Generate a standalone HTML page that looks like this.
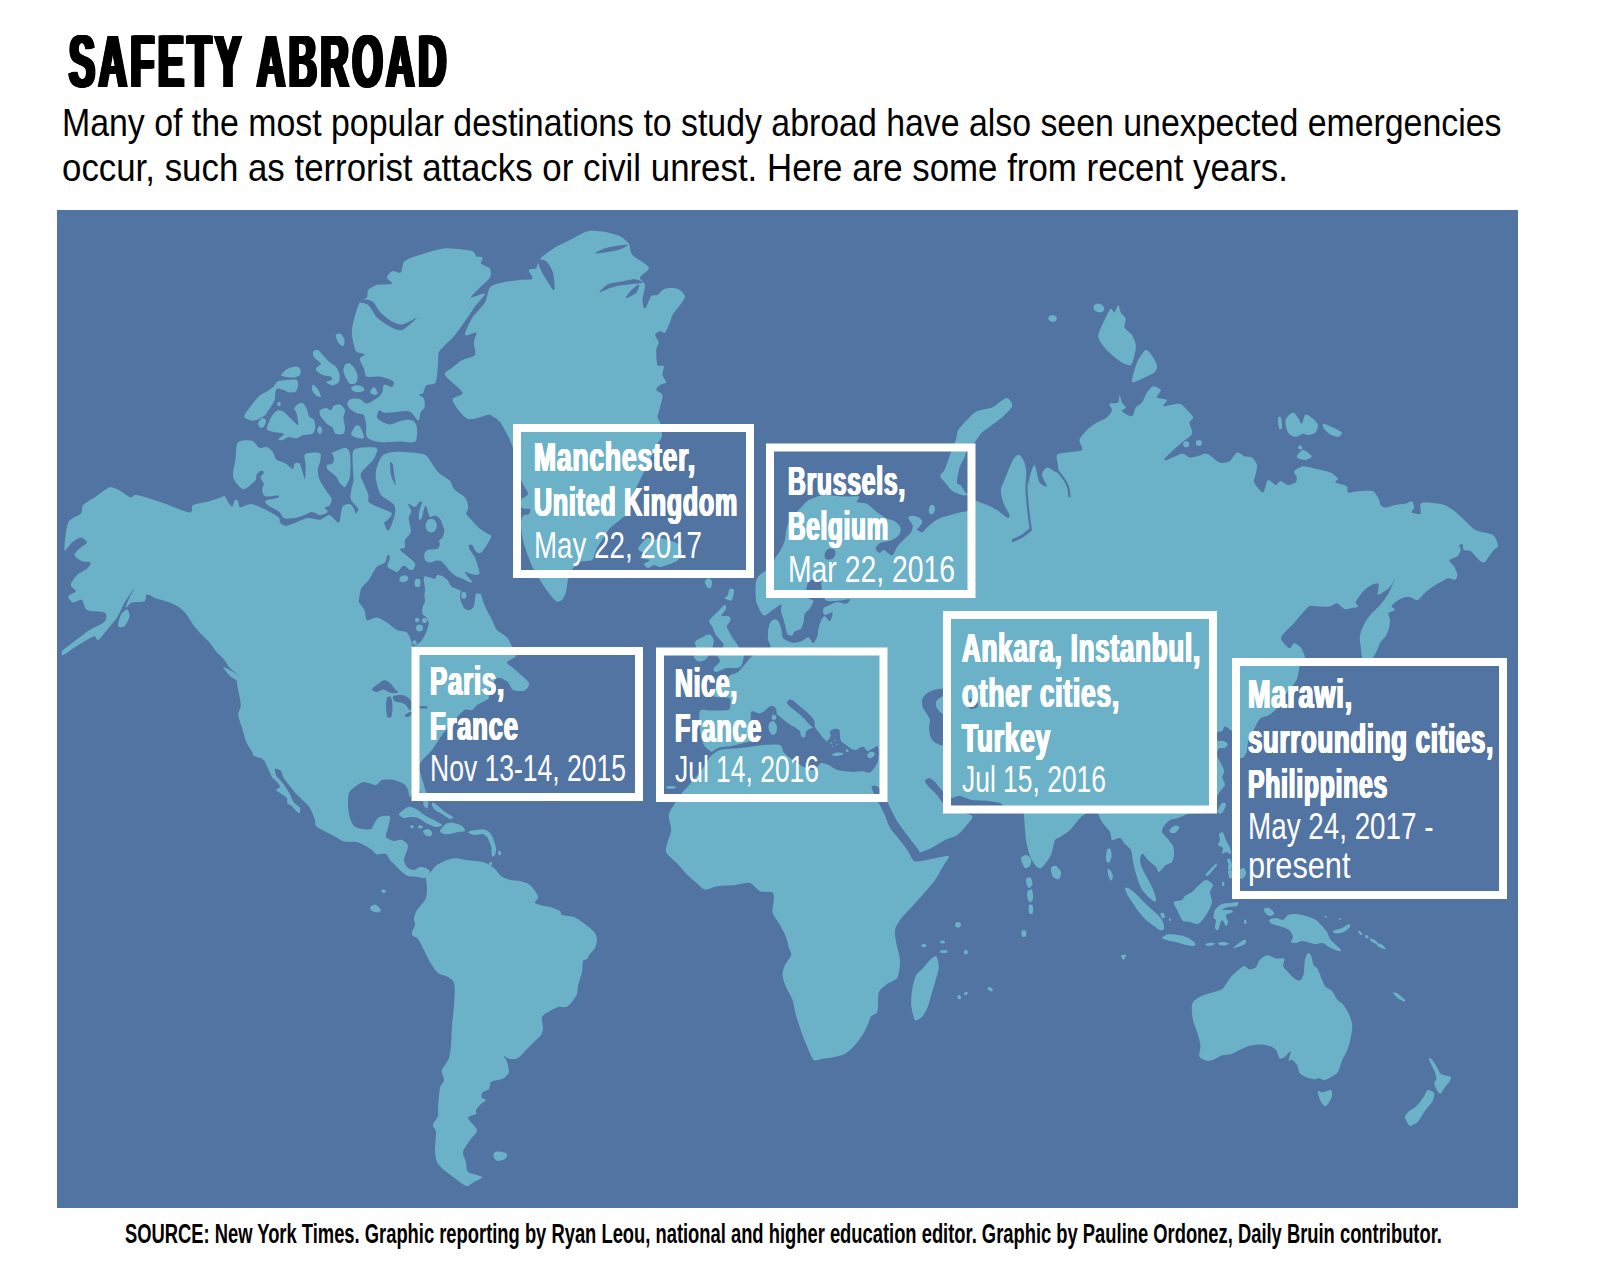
<!DOCTYPE html><html><head><meta charset="utf-8"><title>Safety Abroad</title><style>
html,body{margin:0;padding:0;background:#fff}
body{width:1600px;height:1281px;position:relative;overflow:hidden;font-family:"Liberation Sans",sans-serif}
.t{position:absolute;white-space:nowrap;line-height:1;transform-origin:0 0;display:inline-block}
</style></head><body>
<svg width="1600" height="1281" viewBox="0 0 1600 1281" style="position:absolute;left:0;top:0">
<defs><clipPath id="mc"><rect x="57" y="210" width="1461" height="998"/></clipPath></defs>
<rect x="57" y="210" width="1461" height="998" fill="#5274a3"/>
<g clip-path="url(#mc)">
<g fill="#6bb2c9">
<path d="M68.2,522.5C70.4,517.7 78.8,516.1 80.8,513.8C82.8,511.4 81.4,507.2 83.2,505.0C85.1,502.8 91.0,499.8 94.5,497.5C98.0,495.2 106.0,488.3 109.5,487.5C113.0,486.7 117.9,489.9 120.8,491.2C123.6,492.6 128.6,497.0 130.8,497.5C132.9,498.0 132.8,494.3 137.0,495.0C141.2,495.7 155.0,500.2 162.0,502.5C169.0,504.8 185.3,512.2 189.5,512.5C193.7,512.8 190.6,506.5 193.2,505.0C195.9,503.5 205.9,502.2 209.5,501.2C213.1,500.3 218.0,498.4 220.0,497.8C222.0,497.1 223.4,495.4 224.7,496.2C225.9,497.1 228.3,502.7 229.4,504.1C230.4,505.4 231.8,506.9 232.5,506.4C233.2,505.9 234.1,500.9 234.8,500.2C235.6,499.4 237.2,500.0 238.0,500.9C238.7,501.9 238.5,506.8 240.3,507.2C242.1,507.6 247.9,503.8 251.2,504.1C254.6,504.4 261.7,507.8 265.3,509.5C269.0,511.3 276.6,515.6 278.6,517.3C280.6,519.1 279.2,521.7 280.2,522.8C281.1,524.0 283.9,525.8 285.6,525.9C287.4,526.0 290.5,524.6 293.4,523.6C296.4,522.6 304.0,518.6 307.5,518.1C311.0,517.6 317.1,520.1 320.0,519.7C322.9,519.3 326.9,514.6 329.4,515.0C331.9,515.4 337.2,523.2 338.8,522.8C340.3,522.4 340.5,514.2 341.1,511.9C341.7,509.6 342.3,506.7 343.4,505.6C344.6,504.6 348.3,503.8 349.7,504.1C351.0,504.4 352.8,506.7 353.6,508.0C354.4,509.2 355.3,513.3 355.9,513.4C356.6,513.5 358.7,510.2 358.3,508.8C357.9,507.3 353.9,504.0 352.8,502.5C351.8,501.0 350.6,499.7 350.5,497.8C350.3,495.9 351.1,490.7 351.6,488.4C352.0,486.1 353.4,483.8 353.6,480.6C353.8,477.5 352.7,469.2 352.8,465.0C352.9,460.8 351.2,451.7 354.4,449.4C357.5,447.1 373.6,446.6 376.2,447.8C378.9,449.1 375.2,456.2 373.9,458.8C372.7,461.2 368.6,464.5 366.9,466.6C365.1,468.6 361.0,472.1 360.6,474.4C360.2,476.7 362.7,481.0 363.8,483.8C364.8,486.5 367.7,492.2 368.4,494.7C369.2,497.2 367.1,500.5 369.2,502.5C371.3,504.5 381.0,508.1 384.1,509.5C387.1,511.0 391.4,512.1 391.9,513.4C392.4,514.8 389.0,518.4 388.0,519.7C386.9,520.9 384.0,521.4 384.1,522.8C384.2,524.3 387.3,531.9 388.8,530.6C390.2,529.4 394.4,517.0 395.0,513.4C395.6,509.9 395.3,506.6 393.4,504.1C391.6,501.6 383.2,497.8 380.9,494.7C378.6,491.6 376.9,484.0 376.2,480.6C375.6,477.3 375.4,473.0 376.2,469.7C377.1,466.4 379.8,458.0 382.5,455.6C385.2,453.2 391.1,451.9 396.6,451.7C402.0,451.5 418.5,452.7 423.1,454.1C427.7,455.4 428.9,459.4 430.9,461.9C433.0,464.4 436.2,470.3 438.8,472.8C441.2,475.3 447.7,478.5 449.7,480.6C451.7,482.8 452.4,487.0 453.8,488.8C455.1,490.5 458.5,492.6 460.0,493.8C461.5,494.9 464.0,496.3 465.0,497.5C466.0,498.7 467.1,501.0 467.5,502.5C467.9,504.0 468.3,507.2 468.1,508.8C468.0,510.2 465.7,512.1 466.2,513.8C466.8,515.4 470.7,519.2 472.5,521.2C474.3,523.2 478.0,527.1 480.0,528.8C482.0,530.4 486.0,532.8 487.5,533.8C489.0,534.8 491.2,534.9 491.2,536.2C491.2,537.6 488.7,541.8 487.5,543.8C486.3,545.8 483.7,550.0 482.5,551.2C481.3,552.5 479.8,553.3 478.8,553.1C477.8,553.0 475.8,551.1 475.0,550.0C474.2,548.9 473.3,545.7 472.5,545.0C471.7,544.3 469.1,544.3 468.8,545.0C468.4,545.7 469.2,548.3 470.0,550.0C470.8,551.7 474.0,555.5 475.0,557.5C476.0,559.5 476.9,563.1 477.5,565.0C478.1,566.9 478.9,569.5 479.4,571.9C479.9,574.2 481.1,579.8 481.2,582.5C481.4,585.2 480.3,589.5 480.8,592.5C481.2,595.5 483.0,601.3 484.5,605.0C486.0,608.7 490.3,616.7 492.0,620.0C493.7,623.3 495.0,627.7 497.0,630.0C499.0,632.3 505.0,635.2 507.0,637.5C509.0,639.8 510.8,644.5 512.0,647.0C513.2,649.5 516.4,654.2 515.8,656.2C515.1,658.3 506.8,660.5 507.0,662.5C507.2,664.5 514.1,668.5 517.0,671.2C519.9,674.0 528.0,680.4 529.0,683.0C530.0,685.6 526.6,689.6 524.5,690.5C522.4,691.4 515.6,691.2 513.2,690.0C510.9,688.8 509.2,682.9 507.0,681.2C504.8,679.6 499.3,676.8 497.0,678.0C494.7,679.2 490.7,687.2 489.5,690.0C488.3,692.8 489.9,696.8 488.2,698.8C486.6,700.8 479.2,703.5 477.0,705.0C474.8,706.5 473.7,709.3 472.0,710.0C470.3,710.7 466.8,708.7 464.5,710.0C462.2,711.3 457.5,716.7 454.5,720.0C451.5,723.3 445.0,731.0 442.0,735.0C439.0,739.0 435.0,746.0 432.0,750.0C429.0,754.0 420.6,760.3 419.5,765.0C418.4,769.7 422.9,780.3 424.0,785.0C425.1,789.7 427.5,796.9 428.0,800.0C428.5,803.1 428.0,807.2 427.5,808.0C427.0,808.8 424.7,807.7 424.0,806.0C423.3,804.3 423.1,797.7 422.0,795.0C420.9,792.3 417.6,785.7 416.0,786.0C414.4,786.3 411.1,796.5 410.0,797.0C408.9,797.5 408.8,791.7 408.0,790.0C407.2,788.3 405.9,785.3 404.0,784.0C402.1,782.7 396.9,780.5 394.0,780.0C391.1,779.5 384.4,779.3 382.0,780.0C379.6,780.7 378.4,784.7 376.0,785.0C373.6,785.3 366.7,781.9 364.0,782.0C361.3,782.1 358.0,784.5 356.0,786.0C354.0,787.5 350.1,790.3 349.0,793.0C347.9,795.7 347.9,802.7 348.0,806.0C348.1,809.3 349.2,815.3 350.0,818.0C350.8,820.7 352.4,824.5 354.0,826.0C355.6,827.5 359.7,828.6 362.0,829.0C364.3,829.4 369.4,829.7 371.0,829.0C372.6,828.3 373.1,825.5 374.0,824.0C374.9,822.5 376.7,819.1 378.0,818.0C379.3,816.9 382.4,816.1 384.0,816.0C385.6,815.9 389.5,815.4 390.0,817.0C390.5,818.6 388.5,825.3 388.0,828.0C387.5,830.7 385.2,835.3 386.0,837.0C386.8,838.7 391.9,840.6 394.0,841.0C396.1,841.4 400.1,839.3 402.0,840.0C403.9,840.7 407.7,843.3 408.0,846.0C408.3,848.7 404.0,857.1 404.0,860.0C404.0,862.9 406.7,866.7 408.0,868.0C409.3,869.3 412.4,870.1 414.0,870.0C415.6,869.9 418.4,867.3 420.0,867.0C421.6,866.7 424.7,867.3 426.0,868.0C427.3,868.7 430.1,870.7 430.0,872.0C429.9,873.3 426.6,877.3 425.0,878.0C423.4,878.7 420.3,877.3 418.0,877.0C415.7,876.7 410.1,876.7 408.0,876.0C405.9,875.3 403.6,873.3 402.0,872.0C400.4,870.7 397.6,867.6 396.0,866.0C394.4,864.4 391.3,861.6 390.0,860.0C388.7,858.4 387.7,854.7 386.0,854.0C384.3,853.3 378.9,854.9 377.0,854.4C375.1,853.9 373.5,851.1 372.0,850.0C370.5,848.9 367.9,847.0 366.0,846.0C364.1,845.0 360.9,843.0 358.0,842.4C355.1,841.8 346.9,842.3 344.0,841.6C341.1,840.9 338.4,838.3 336.0,837.0C333.6,835.7 328.7,833.5 326.0,832.0C323.3,830.5 317.5,827.6 316.0,826.0C314.5,824.4 315.6,821.9 315.0,820.0C314.4,818.1 312.7,813.7 311.9,811.9C311.0,810.0 310.0,807.8 308.8,806.2C307.5,804.7 304.3,801.8 302.5,800.0C300.7,798.2 296.7,794.3 295.0,792.5C293.3,790.7 291.3,787.9 290.0,786.2C288.7,784.6 286.0,781.4 285.0,780.0C284.0,778.6 283.0,776.8 282.5,775.6C282.0,774.4 282.2,771.9 281.2,770.9C280.2,770.0 275.7,768.1 275.0,768.8C274.3,769.4 275.6,774.1 276.2,775.6C276.9,777.1 278.8,778.6 280.0,780.0C281.2,781.4 283.8,784.5 285.0,786.2C286.2,788.0 288.5,791.5 289.4,793.1C290.3,794.8 291.2,797.4 291.9,798.8C292.5,800.1 293.3,801.9 294.4,803.1C295.5,804.3 299.3,806.6 300.0,807.8C300.7,809.1 299.9,811.8 299.7,812.5C299.4,813.2 299.2,813.6 298.1,812.8C297.1,812.0 293.3,807.5 291.9,806.2C290.4,805.0 287.9,804.2 287.2,803.1C286.5,802.0 287.8,799.5 286.9,798.1C285.9,796.8 281.4,794.2 280.0,793.1C278.6,792.0 276.2,790.9 276.2,790.0C276.2,789.1 280.1,787.8 280.0,786.6C279.9,785.3 276.6,781.8 275.6,780.6C274.6,779.5 273.1,778.8 272.5,778.1C271.9,777.5 271.8,776.7 271.2,775.6C270.8,774.5 269.3,771.2 268.8,770.0C268.2,768.8 267.4,767.4 266.9,766.2C266.3,765.1 265.5,762.3 264.7,761.2C263.9,760.2 262.1,758.9 260.6,758.1C259.1,757.4 254.5,756.4 253.4,755.6C252.4,754.9 253.2,753.8 252.5,752.5C251.8,751.2 249.0,747.3 248.1,745.6C247.2,744.0 246.4,742.4 245.6,740.0C244.8,737.6 243.0,730.8 242.0,727.5C241.0,724.2 238.4,718.0 238.2,715.0C238.1,712.0 240.8,708.3 240.8,705.0C240.8,701.7 238.8,693.3 238.2,690.0C237.8,686.7 236.2,681.2 237.0,680.0C237.8,678.8 244.2,681.8 244.5,681.2C244.8,680.8 241.5,678.1 239.5,676.2C237.5,674.4 231.5,669.7 229.5,667.5C227.5,665.3 226.2,662.0 224.5,660.0C222.8,658.0 219.0,654.8 217.0,652.5C215.0,650.2 211.5,644.8 209.5,642.5C207.5,640.2 204.2,637.3 202.0,635.0C199.8,632.7 195.2,627.7 193.2,625.0C191.2,622.3 188.8,617.3 187.0,615.0C185.2,612.7 181.8,609.2 179.5,607.5C177.2,605.8 172.5,603.7 169.5,602.5C166.5,601.3 160.0,599.8 157.0,598.8C154.0,597.7 148.7,594.2 147.0,594.5C145.3,594.8 146.5,600.2 144.5,601.2C142.5,602.3 134.5,601.7 132.0,602.5C129.5,603.3 126.1,608.2 125.8,607.5C125.4,606.8 128.3,600.0 129.5,597.5C130.7,595.0 134.5,589.1 134.5,588.8C134.5,588.4 131.0,592.8 129.5,595.0C128.0,597.2 124.9,602.0 123.2,605.0C121.6,608.0 119.2,614.2 117.0,617.5C114.8,620.8 109.5,627.0 107.0,630.0C104.5,633.0 99.9,639.2 98.2,640.0C96.6,640.8 96.3,636.1 94.5,636.2C92.7,636.4 87.2,639.8 84.5,641.2C81.8,642.8 77.3,645.7 74.5,647.5C71.7,649.3 64.9,654.5 63.2,655.0C61.6,655.5 61.2,652.6 62.0,651.2C62.8,649.9 67.2,646.8 69.5,645.0C71.8,643.2 76.8,639.5 79.5,637.5C82.2,635.5 86.8,631.7 89.5,630.0C92.2,628.3 97.3,626.3 99.5,625.0C101.7,623.7 105.1,621.7 105.8,620.0C106.4,618.3 107.0,613.8 104.5,612.5C102.0,611.2 90.0,611.7 87.0,610.0C84.0,608.3 83.8,601.0 82.0,600.0C80.2,599.0 75.1,603.0 73.2,602.5C71.4,602.0 67.9,597.8 68.2,596.2C68.6,594.8 75.4,592.8 75.8,591.2C76.1,589.8 70.6,587.2 70.8,585.0C70.9,582.8 74.8,577.2 77.0,575.0C79.2,572.8 85.2,570.4 87.0,568.8C88.8,567.1 91.4,563.5 90.8,562.5C90.1,561.5 84.2,562.2 82.0,561.2C79.8,560.2 74.7,556.8 74.5,555.0C74.3,553.2 79.1,549.2 80.8,547.5C82.4,545.8 87.0,543.8 87.0,542.5C87.0,541.2 82.8,537.5 80.8,537.5C78.8,537.5 74.2,540.8 72.0,542.5C69.8,544.2 65.0,552.7 64.5,550.0C64.0,547.3 66.1,527.3 68.2,522.5Z"/>
<path d="M540.0,258.8C542.5,256.0 551.0,250.0 555.0,247.5C559.0,245.0 565.7,242.2 570.0,240.0C574.3,237.8 582.8,232.3 587.5,231.2C592.2,230.2 600.7,231.3 605.0,232.0C609.3,232.7 616.8,234.7 620.0,236.2C623.2,237.8 627.1,241.2 628.8,243.8C630.4,246.2 629.8,251.8 632.5,255.0C635.2,258.2 647.8,264.5 648.8,267.5C649.8,270.5 640.5,275.2 640.0,277.5C639.5,279.8 644.7,282.0 645.0,285.0C645.3,288.0 642.5,296.8 642.5,300.0C642.5,303.2 643.8,309.2 645.0,308.8C646.2,308.2 649.6,298.1 651.2,296.2C652.9,294.4 655.7,296.0 657.5,295.0C659.3,294.0 662.3,289.6 665.0,288.8C667.7,287.9 674.8,287.8 677.5,288.8C680.2,289.8 684.7,294.1 685.0,296.2C685.3,298.4 681.7,302.5 680.0,305.0C678.3,307.5 673.8,312.7 672.5,315.0C671.2,317.3 671.0,320.2 670.0,322.5C669.0,324.8 666.3,331.3 665.0,332.5C663.7,333.7 661.3,330.9 660.0,331.2C658.7,331.6 655.2,333.5 655.0,335.0C654.8,336.5 658.6,340.5 658.8,342.5C658.9,344.5 656.4,347.0 656.2,350.0C656.1,353.0 656.5,362.8 657.5,365.0C658.5,367.2 663.1,364.9 663.8,366.2C664.4,367.6 662.2,372.8 662.5,375.0C662.8,377.2 666.6,381.2 666.2,382.5C665.9,383.8 661.3,384.0 660.0,385.0C658.7,386.0 655.9,388.7 656.2,390.0C656.6,391.3 662.0,392.7 662.5,395.0C663.0,397.3 660.7,404.5 660.0,407.5C659.3,410.5 657.5,415.5 657.5,417.5C657.5,419.5 659.4,420.0 660.0,422.5C660.6,425.0 662.5,432.9 662.0,436.0C661.5,439.1 657.6,442.8 656.0,446.0C654.4,449.2 651.6,456.5 650.0,460.0C648.4,463.5 645.6,468.8 644.0,472.0C642.4,475.2 639.6,480.8 638.0,484.0C636.4,487.2 633.3,492.3 632.0,496.0C630.7,499.7 629.6,508.8 628.0,512.0C626.4,515.2 622.4,517.9 620.0,520.0C617.6,522.1 612.4,525.3 610.0,528.0C607.6,530.7 603.9,537.1 602.0,540.0C600.1,542.9 597.3,547.3 596.0,550.0C594.7,552.7 594.1,558.4 592.0,560.0C589.9,561.6 582.7,560.7 580.0,562.0C577.3,563.3 573.6,567.6 572.0,570.0C570.4,572.4 568.8,577.1 568.0,580.0C567.2,582.9 566.8,589.3 566.0,592.0C565.2,594.7 563.3,598.8 562.0,600.0C560.7,601.2 557.9,602.1 556.0,601.0C554.1,599.9 550.1,594.8 548.0,592.0C545.9,589.2 542.1,583.5 540.0,580.0C537.9,576.5 533.6,569.2 532.0,566.0C530.4,562.8 529.2,559.5 528.0,556.0C526.8,552.5 523.9,544.3 523.0,540.0C522.1,535.7 521.0,527.2 521.0,524.0C521.0,520.8 521.9,517.3 523.0,516.0C524.1,514.7 528.1,514.9 529.0,514.0C529.9,513.1 530.9,509.8 530.0,509.0C529.1,508.2 523.2,509.2 522.0,508.0C520.8,506.8 520.2,501.9 521.0,500.0C521.8,498.1 527.7,496.1 528.0,494.0C528.3,491.9 524.1,486.4 523.0,484.0C521.9,481.6 520.7,479.2 520.0,476.0C519.3,472.8 518.8,463.5 518.0,460.0C517.2,456.5 515.3,453.2 514.0,450.0C512.7,446.8 509.9,439.7 508.0,436.0C506.1,432.3 502.1,424.7 500.0,422.0C497.9,419.3 493.7,416.9 492.0,416.0C490.3,415.1 490.8,414.6 487.5,415.0C484.2,415.4 472.2,420.8 467.5,418.8C462.8,416.8 453.2,403.5 452.5,400.0C451.8,396.5 463.5,395.8 462.5,392.5C461.5,389.2 446.3,378.3 445.0,375.0C443.7,371.7 450.2,369.5 452.5,367.5C454.8,365.5 459.5,361.7 462.5,360.0C465.5,358.3 473.5,357.3 475.0,355.0C476.5,352.7 473.6,345.5 473.8,342.5C473.9,339.5 477.4,333.5 476.2,332.5C475.1,331.5 465.5,337.0 465.0,335.0C464.5,333.0 469.8,321.8 472.5,317.5C475.2,313.2 482.7,306.5 485.0,302.5C487.3,298.5 487.7,290.2 490.0,287.5C492.3,284.8 498.5,283.5 502.5,282.5C506.5,281.5 516.0,280.5 520.0,280.0C524.0,279.5 531.3,280.1 532.5,278.8C533.7,277.4 528.2,271.4 528.8,270.0C529.2,268.6 534.8,269.5 536.2,268.0C537.8,266.5 537.5,261.5 540.0,258.8Z"/>
<path d="M442.0,248.8C437.3,249.6 424.5,253.3 419.5,255.0C414.5,256.7 407.0,258.9 404.5,261.2C402.0,263.6 402.4,271.2 400.8,272.5C399.1,273.8 393.8,270.6 392.0,271.2C390.2,271.9 387.0,275.8 387.0,277.5C387.0,279.2 393.3,282.8 392.0,283.8C390.7,284.8 380.2,284.2 377.0,285.0C373.8,285.8 369.6,288.3 368.2,290.0C366.9,291.7 368.2,295.8 367.0,297.5C365.8,299.2 361.3,299.2 359.5,302.5C357.7,305.8 354.2,318.2 353.2,322.5C352.2,326.8 351.6,331.2 352.0,335.0C352.4,338.8 354.3,348.4 355.9,350.9C357.6,353.5 364.0,353.0 364.5,354.1C365.1,355.1 359.9,356.9 359.8,358.8C359.7,360.6 362.8,365.7 363.8,368.1C364.7,370.5 364.6,375.6 366.9,376.7C369.2,377.9 377.4,376.1 380.9,376.7C384.5,377.3 392.0,380.1 393.4,381.4C394.9,382.8 393.1,386.5 391.9,386.9C390.6,387.3 385.3,383.9 384.1,384.5C382.8,385.2 383.1,390.0 382.5,391.6C381.9,393.1 381.0,394.8 379.4,396.2C377.7,397.7 371.9,401.6 370.0,402.5C368.1,403.4 366.6,403.7 365.3,403.3C364.1,402.9 362.3,400.0 360.6,399.4C359.0,398.8 354.6,398.2 352.8,398.6C351.0,399.0 347.8,401.1 347.3,402.5C346.9,403.9 348.3,407.3 349.7,408.8C351.0,410.2 355.6,412.6 357.5,413.4C359.4,414.3 362.6,413.5 363.8,415.0C364.9,416.5 365.7,421.5 366.1,424.4C366.5,427.3 365.5,434.6 366.9,436.9C368.2,439.2 374.0,440.8 376.2,441.6C378.5,442.3 380.9,442.3 384.1,442.3C387.2,442.3 395.5,441.7 399.7,441.6C403.9,441.5 413.0,443.4 415.3,441.6C417.6,439.7 417.1,430.2 416.9,427.5C416.7,424.8 415.0,422.3 413.8,421.2C412.5,420.2 409.4,419.7 407.5,419.7C405.6,419.7 402.0,420.6 399.7,421.2C397.4,421.9 392.6,424.3 390.3,424.4C388.0,424.5 384.3,423.0 382.5,422.0C380.7,421.1 377.4,418.9 377.0,417.3C376.6,415.8 378.4,410.9 379.4,410.3C380.3,409.7 381.8,412.4 384.1,412.7C386.4,412.9 393.4,412.1 396.6,411.9C399.7,411.7 405.4,410.9 407.5,411.1C409.6,411.3 410.7,412.2 412.2,413.4C413.6,414.7 417.3,420.7 418.4,420.5C419.6,420.3 419.9,413.6 420.8,411.9C421.6,410.1 424.3,409.0 424.7,407.2C425.1,405.4 424.6,400.3 423.9,398.6C423.2,396.9 419.3,395.4 419.2,394.7C419.1,394.0 422.2,394.4 423.1,393.1C424.1,391.9 424.6,386.8 426.2,385.3C427.9,383.9 434.1,385.1 435.6,382.2C437.2,379.3 437.6,367.4 438.0,363.4C438.4,359.5 437.8,355.0 438.8,352.5C439.7,350.0 442.8,347.3 445.0,345.0C447.2,342.7 452.0,338.7 455.0,335.0C458.0,331.3 464.8,321.3 467.5,317.5C470.2,313.7 472.7,309.4 475.0,306.2C477.3,303.1 485.5,294.9 485.0,293.8C484.5,292.6 472.6,297.7 471.2,297.5C469.9,297.3 473.5,294.2 475.0,292.5C476.5,290.8 480.5,287.0 482.5,285.0C484.5,283.0 489.0,279.7 490.0,277.5C491.0,275.3 491.2,270.6 490.0,268.8C488.8,266.9 482.2,265.2 481.2,263.8C480.2,262.2 483.2,258.5 482.5,257.5C481.8,256.5 477.6,257.1 476.2,256.2C474.9,255.4 475.3,252.2 472.5,251.2C469.7,250.2 459.1,249.1 455.0,248.8C450.9,248.4 446.7,247.9 442.0,248.8Z"/>
<path d="M238.0,442.3C240.2,439.9 249.2,440.1 252.0,440.8C254.8,441.5 257.1,447.0 259.1,447.8C261.0,448.6 265.0,446.4 266.9,447.0C268.8,447.7 271.9,450.8 273.1,452.5C274.4,454.2 274.6,458.1 276.2,459.5C277.9,461.0 283.4,462.2 285.6,463.4C287.8,464.7 291.4,468.9 292.7,468.9C293.9,468.9 293.8,464.2 294.7,463.4C295.6,462.7 298.6,462.2 299.7,463.4C300.8,464.7 302.1,470.7 302.8,472.8C303.5,474.9 304.8,480.1 305.2,479.1C305.5,478.0 305.7,468.1 305.6,465.0C305.5,461.9 304.1,457.2 304.4,455.6C304.6,454.1 305.8,453.7 307.5,453.3C309.2,452.9 315.1,452.3 316.9,452.5C318.6,452.7 320.4,453.6 320.8,454.8C321.2,456.1 320.4,459.9 320.0,461.9C319.6,463.9 317.7,467.2 317.7,469.7C317.7,472.2 318.6,477.5 320.0,480.6C321.4,483.8 326.2,490.6 327.8,493.1C329.4,495.6 331.5,497.7 331.7,499.4C331.9,501.0 330.3,504.5 329.4,505.6C328.4,506.8 324.9,507.1 324.7,508.0C324.5,508.8 328.4,510.9 327.8,511.9C327.2,512.8 322.1,515.0 320.0,515.0C317.9,515.0 314.3,511.9 312.2,511.9C310.1,511.9 306.7,514.2 304.4,515.0C302.1,515.8 297.7,517.7 295.0,518.1C292.3,518.5 286.1,519.0 284.1,518.1C282.0,517.3 281.5,513.5 279.4,511.9C277.3,510.2 270.3,507.1 268.4,505.6C266.6,504.2 264.1,502.0 265.3,500.9C266.6,499.9 276.1,498.5 277.8,497.8C279.5,497.1 279.5,495.7 277.8,495.5C276.1,495.3 267.4,497.0 265.3,496.2C263.2,495.5 262.4,491.7 262.2,490.0C262.0,488.3 264.0,485.4 263.8,483.8C263.5,482.1 260.6,479.0 260.6,477.5C260.6,476.0 263.6,473.8 263.8,472.8C263.9,471.9 262.3,470.3 261.4,470.5C260.5,470.7 257.6,473.0 256.7,474.4C255.9,475.7 256.9,478.6 255.2,480.6C253.4,482.6 246.4,489.6 243.4,489.2C240.5,488.8 234.3,481.6 233.3,477.5C232.2,473.4 235.0,463.4 235.6,458.8C236.2,454.1 235.8,444.7 238.0,442.3Z"/>
<path d="M332.5,452.5C334.3,451.9 342.7,447.8 345.0,447.8C347.3,447.8 349.0,450.2 349.7,452.5C350.4,454.8 350.5,461.7 350.5,465.0C350.5,468.3 350.4,474.6 349.7,477.5C349.0,480.4 346.2,486.0 345.0,486.9C343.8,487.7 341.6,485.2 340.3,483.8C339.1,482.3 337.3,477.8 335.6,475.9C334.0,474.1 329.0,471.1 327.8,469.7C326.7,468.2 326.4,465.8 327.0,465.0C327.7,464.2 331.6,464.3 332.5,463.4C333.4,462.6 334.2,460.2 334.1,458.8C334.0,457.3 331.9,453.3 331.7,452.5C331.5,451.7 330.7,453.1 332.5,452.5Z"/>
<path d="M280.9,375.2C281.1,374.1 285.1,370.1 287.2,368.9C289.3,367.8 294.8,366.5 296.6,366.6C298.3,366.7 300.1,368.5 300.5,369.7C300.9,370.8 300.6,374.1 299.7,375.2C298.8,376.2 295.3,377.3 293.4,377.5C291.6,377.7 287.3,377.0 285.6,376.7C284.0,376.4 280.7,376.2 280.9,375.2Z"/>
<path d="M244.2,416.6C244.2,414.6 249.3,408.3 251.2,405.6C253.2,402.9 257.0,398.1 259.1,396.2C261.1,394.4 265.0,392.8 266.9,391.6C268.8,390.3 271.7,388.2 273.1,386.9C274.6,385.5 275.7,382.3 277.8,381.4C279.9,380.5 286.2,380.1 288.8,379.8C291.2,379.6 295.3,379.1 296.6,379.8C297.8,380.6 298.2,383.8 298.1,385.3C298.0,386.9 297.0,390.6 295.8,391.6C294.5,392.5 290.3,392.6 288.8,392.3C287.2,392.1 285.5,390.5 284.1,390.0C282.6,389.5 279.0,388.2 277.8,388.4C276.7,388.6 275.9,390.1 275.5,391.6C275.1,393.0 275.2,397.5 274.7,399.4C274.2,401.2 272.4,404.2 271.6,405.6C270.7,407.1 269.3,409.1 268.4,410.3C267.6,411.6 266.8,413.8 265.3,415.0C263.9,416.2 259.4,419.0 257.5,419.7C255.6,420.4 253.0,420.9 251.2,420.5C249.5,420.1 244.2,418.5 244.2,416.6Z"/>
<path d="M277.0,404.1C277.0,403.4 278.5,401.7 279.1,401.7C279.6,401.7 280.9,403.4 280.9,404.1C280.9,404.7 279.6,406.4 279.1,406.4C278.5,406.4 277.0,404.7 277.0,404.1Z"/>
<path d="M258.3,422.8C258.6,421.6 261.1,418.4 262.2,418.1C263.2,417.8 265.9,419.3 266.1,420.5C266.3,421.6 264.6,425.8 263.8,426.7C262.9,427.7 260.6,428.0 259.8,427.5C259.1,427.0 258.0,424.1 258.3,422.8Z"/>
<path d="M266.9,429.1C266.5,427.0 270.1,419.1 271.6,416.6C273.0,414.1 276.1,410.9 277.8,410.3C279.5,409.7 282.4,410.8 284.1,411.9C285.7,412.9 288.4,416.4 290.3,418.1C292.2,419.9 297.3,425.8 298.1,425.2C299.0,424.5 297.1,415.6 296.6,413.4C296.0,411.2 294.0,410.0 294.2,408.8C294.4,407.5 297.0,404.8 298.1,404.1C299.3,403.3 301.7,402.7 302.8,403.3C304.0,403.9 305.9,407.0 306.7,408.8C307.6,410.5 308.1,415.1 309.1,416.6C310.0,418.0 312.9,418.2 313.8,419.7C314.6,421.1 315.5,425.6 315.3,427.5C315.1,429.4 313.9,432.7 312.2,433.8C310.5,434.8 304.9,434.7 302.8,435.3C300.7,435.9 298.4,438.2 296.6,438.4C294.7,438.6 290.6,436.7 288.8,436.9C286.9,437.1 283.9,439.7 282.5,440.0C281.1,440.3 278.4,440.1 278.6,439.2C278.8,438.4 284.6,434.7 284.1,433.8C283.5,432.8 277.0,432.8 274.7,432.2C272.4,431.6 267.3,431.1 266.9,429.1Z"/>
<path d="M317.2,429.8C317.1,428.7 319.0,425.9 319.7,425.9C320.4,425.9 322.3,428.7 322.3,429.8C322.4,431.0 320.7,434.5 320.0,434.5C319.3,434.5 317.2,431.0 317.2,429.8Z"/>
<path d="M313.8,350.9C314.5,350.3 317.2,349.5 318.4,350.2C319.7,350.8 321.7,354.1 323.1,355.6C324.6,357.2 327.7,360.4 329.4,361.9C331.0,363.3 334.3,364.9 335.6,366.6C337.0,368.2 339.1,372.3 339.5,374.4C339.9,376.5 339.7,380.7 338.8,382.2C337.8,383.6 334.2,385.3 332.5,385.3C330.8,385.3 326.4,382.9 326.2,382.2C326.1,381.5 331.1,380.6 331.7,379.8C332.3,379.1 332.1,377.3 330.9,376.7C329.8,376.1 325.0,375.9 323.1,375.2C321.2,374.4 317.8,372.2 316.9,371.2C315.9,370.3 315.6,369.2 316.1,368.1C316.6,367.1 320.9,364.7 320.8,363.4C320.7,362.2 316.4,359.9 315.3,358.8C314.3,357.6 313.2,355.9 313.0,354.8C312.8,353.8 313.0,351.6 313.8,350.9Z"/>
<path d="M313.0,384.5C313.8,384.5 317.4,388.3 318.4,390.0C319.5,391.7 321.2,396.4 320.8,397.0C320.4,397.7 316.5,395.6 315.3,394.7C314.2,393.8 312.5,391.4 312.2,390.0C311.9,388.6 312.1,384.5 313.0,384.5Z"/>
<path d="M345.0,365.0C345.8,364.0 348.4,363.0 349.7,363.4C350.9,363.9 353.3,366.5 354.4,368.1C355.4,369.8 357.3,374.0 357.5,375.9C357.7,377.9 357.0,381.9 355.9,383.0C354.9,384.0 350.9,384.3 349.7,383.8C348.4,383.2 347.4,380.7 346.6,379.1C345.7,377.4 343.6,373.1 343.4,371.2C343.2,369.4 344.2,366.0 345.0,365.0Z"/>
<path d="M351.2,387.7C351.7,386.9 354.4,385.4 355.9,385.3C357.5,385.2 361.9,386.1 363.0,386.9C364.0,387.6 364.5,390.1 363.8,390.8C363.0,391.5 359.0,392.3 357.5,392.3C356.0,392.3 353.6,391.4 352.8,390.8C352.0,390.2 350.8,388.4 351.2,387.7Z"/>
<path d="M370.0,392.3C369.9,391.3 372.9,386.8 373.9,386.9C374.9,387.0 377.7,392.0 377.8,393.1C377.9,394.2 375.7,395.1 374.7,395.0C373.6,394.9 370.1,393.4 370.0,392.3Z"/>
<path d="M320.0,410.3C320.8,409.4 324.8,408.0 326.2,408.0C327.7,408.0 329.9,410.6 330.9,410.3C332.0,410.0 332.8,406.4 334.1,405.6C335.3,404.9 338.9,404.2 340.3,404.8C341.8,405.5 344.6,408.5 345.0,410.3C345.4,412.1 343.4,415.8 343.4,418.1C343.4,420.4 345.0,425.4 345.0,427.5C345.0,429.6 344.7,432.9 343.4,433.8C342.2,434.6 337.1,434.6 335.6,433.8C334.2,432.9 333.5,428.8 332.5,427.5C331.5,426.2 329.1,425.4 327.8,424.4C326.6,423.3 324.2,420.9 323.1,419.7C322.1,418.4 320.4,416.2 320.0,415.0C319.6,413.8 319.2,411.2 320.0,410.3Z"/>
<path d="M351.2,433.8C351.5,432.2 354.7,426.5 355.9,425.6C357.2,424.8 359.6,425.8 360.6,427.5C361.7,429.2 364.6,436.9 363.8,438.1C362.9,439.4 356.0,437.5 354.4,436.9C352.7,436.3 351.0,435.2 351.2,433.8Z"/>
<path d="M335.8,335.0C336.1,333.8 339.6,333.1 340.8,333.8C341.9,334.4 344.2,338.3 344.5,340.0C344.8,341.7 344.1,345.9 343.2,346.2C342.4,346.6 339.2,344.0 338.2,342.5C337.2,341.0 335.4,336.2 335.8,335.0Z"/>
<path d="M118.2,626.2C117.8,624.8 119.6,617.2 120.8,615.0C121.9,612.8 125.8,609.3 127.0,609.5C128.2,609.7 129.8,614.0 129.5,616.2C129.2,618.5 126.0,624.9 124.5,626.2C123.0,627.6 118.8,627.8 118.2,626.2Z"/>
<path d="M223.2,667.0C223.6,666.4 229.5,669.8 232.0,671.2C234.5,672.7 240.3,676.4 242.0,678.0C243.7,679.6 245.7,682.7 245.0,683.0C244.3,683.3 239.1,681.5 237.0,680.5C234.9,679.5 231.3,677.3 229.5,675.5C227.7,673.7 222.9,667.6 223.2,667.0Z"/>
<path d="M399.0,814.0C399.5,812.5 405.7,807.7 408.0,807.0C410.3,806.3 413.6,807.8 416.0,809.0C418.4,810.2 423.3,814.4 426.0,816.0C428.7,817.6 433.9,819.8 436.0,821.0C438.1,822.2 442.0,824.2 442.0,825.0C442.0,825.8 438.1,827.3 436.0,827.0C433.9,826.7 428.4,824.2 426.0,823.0C423.6,821.8 420.1,818.8 418.0,818.0C415.9,817.2 411.9,817.0 410.0,817.0C408.1,817.0 405.5,818.4 404.0,818.0C402.5,817.6 398.5,815.5 399.0,814.0Z"/>
<path d="M440.0,831.0C440.3,829.7 444.1,825.1 446.0,824.0C447.9,822.9 451.9,822.7 454.0,823.0C456.1,823.3 460.5,824.9 462.0,826.0C463.5,827.1 465.5,830.2 465.0,831.0C464.5,831.8 460.0,831.6 458.0,832.0C456.0,832.4 451.9,833.7 450.0,834.0C448.1,834.3 445.3,834.4 444.0,834.0C442.7,833.6 439.7,832.3 440.0,831.0Z"/>
<path d="M423.0,831.0C423.3,830.1 426.8,828.9 428.0,829.0C429.2,829.1 431.6,831.1 432.0,832.0C432.4,832.9 431.8,835.5 431.0,836.0C430.2,836.5 427.1,836.3 426.0,835.6C424.9,834.9 422.7,831.9 423.0,831.0Z"/>
<path d="M410.0,826.0C410.2,825.6 411.9,825.0 412.4,825.2C412.9,825.4 414.2,826.8 414.0,827.2C413.8,827.6 411.7,828.4 411.2,828.2C410.7,828.0 409.8,826.4 410.0,826.0Z"/>
<path d="M418.0,826.4C418.2,826.0 420.3,825.2 421.0,825.4C421.7,825.6 423.2,827.2 423.0,827.6C422.8,828.0 420.3,828.8 419.6,828.6C418.9,828.4 417.8,826.8 418.0,826.4Z"/>
<path d="M468.0,832.0C468.3,831.3 473.9,830.3 476.0,830.0C478.1,829.7 482.3,829.3 484.0,829.6C485.7,829.9 487.8,830.9 489.0,832.0C490.2,833.1 492.1,835.9 493.0,838.0C493.9,840.1 495.7,845.7 496.0,848.0C496.3,850.3 495.5,853.9 495.0,855.0C494.5,856.1 492.5,857.2 492.0,856.0C491.5,854.8 491.7,848.5 491.0,846.0C490.3,843.5 488.2,838.6 487.0,837.0C485.8,835.4 483.7,834.3 482.0,834.0C480.3,833.7 475.9,835.3 474.0,835.0C472.1,834.7 467.7,832.7 468.0,832.0Z"/>
<path d="M498.0,851.6C498.2,851.1 500.0,850.6 500.4,851.0C500.8,851.4 501.2,853.9 501.0,854.4C500.8,854.9 499.2,855.4 498.8,855.0C498.4,854.6 497.8,852.1 498.0,851.6Z"/>
<path d="M489.0,862.4C489.3,862.0 491.2,861.7 491.6,862.0C492.0,862.3 492.3,864.4 492.0,864.8C491.7,865.2 490.0,865.3 489.6,865.0C489.2,864.7 488.7,862.8 489.0,862.4Z"/>
<path d="M433.0,802.4C433.8,802.5 436.4,804.7 438.0,806.0C439.6,807.3 443.0,810.5 445.0,812.0C447.0,813.5 452.3,816.1 453.0,817.0C453.7,817.9 451.5,819.4 450.0,819.0C448.5,818.6 444.0,815.2 442.0,814.0C440.0,812.8 436.3,811.2 435.0,810.0C433.7,808.8 432.3,806.0 432.0,805.0C431.7,804.0 432.2,802.3 433.0,802.4Z"/>
<path d="M381.0,890.6C381.1,890.1 383.3,889.5 384.0,889.6C384.7,889.7 386.1,890.7 386.0,891.2C385.9,891.7 384.3,893.3 383.6,893.2C382.9,893.1 380.9,891.1 381.0,890.6Z"/>
<path d="M370.0,908.0C370.3,907.1 373.5,904.3 375.0,904.6C376.5,904.9 380.6,909.0 381.0,910.0C381.4,911.0 379.1,912.2 378.0,912.4C376.9,912.6 374.1,912.2 373.0,911.6C371.9,911.0 369.7,908.9 370.0,908.0Z"/>
<path d="M494.0,1153.0C494.7,1152.1 497.3,1151.5 499.0,1151.6C500.7,1151.7 506.2,1153.0 507.0,1154.0C507.8,1155.0 506.2,1158.1 505.0,1159.0C503.8,1159.9 499.5,1161.1 498.0,1161.0C496.5,1160.9 494.5,1159.1 494.0,1158.0C493.5,1156.9 493.3,1153.9 494.0,1153.0Z"/>
<path d="M426.0,877.0C426.4,875.0 428.5,874.6 430.0,873.0C431.5,871.4 434.3,866.9 437.0,865.0C439.7,863.1 447.2,859.9 450.0,859.0C452.8,858.1 455.9,858.3 458.0,858.4C460.1,858.5 463.6,859.7 466.0,860.0C468.4,860.3 473.3,860.6 476.0,861.0C478.7,861.4 483.6,862.1 486.0,863.0C488.4,863.9 492.0,866.3 494.0,868.0C496.0,869.7 498.9,874.4 501.0,876.0C503.1,877.6 507.5,879.3 510.0,880.0C512.5,880.7 517.3,880.3 520.0,881.0C522.7,881.7 527.7,883.3 530.0,885.0C532.3,886.7 535.9,892.3 537.0,894.0C538.1,895.7 538.3,896.8 538.0,898.0C537.7,899.2 534.2,901.9 535.0,903.0C535.8,904.1 542.0,905.5 544.0,906.0C546.0,906.5 547.9,906.3 550.0,907.0C552.1,907.7 558.4,909.9 560.0,911.0C561.6,912.1 560.1,914.2 562.0,915.0C563.9,915.8 571.3,916.1 574.0,917.0C576.7,917.9 579.9,920.5 582.0,922.0C584.1,923.5 588.3,926.5 590.0,928.0C591.7,929.5 594.1,931.4 595.0,933.0C595.9,934.6 597.0,938.0 597.0,940.0C597.0,942.0 595.9,946.1 595.0,948.0C594.1,949.9 591.1,952.5 590.0,954.0C588.9,955.5 587.9,958.1 587.0,959.0C586.1,959.9 583.7,959.3 583.0,961.0C582.3,962.7 582.7,968.7 582.0,972.0C581.3,975.3 578.7,983.1 578.0,986.0C577.3,988.9 577.9,991.7 577.0,994.0C576.1,996.3 572.5,1001.3 571.0,1003.0C569.5,1004.7 567.7,1006.5 566.0,1007.0C564.3,1007.5 560.1,1006.5 558.0,1007.0C555.9,1007.5 552.1,1009.7 550.0,1011.0C547.9,1012.3 542.9,1014.7 542.0,1017.0C541.1,1019.3 543.1,1025.6 543.0,1028.0C542.9,1030.4 542.2,1033.1 541.0,1035.0C539.8,1036.9 536.0,1040.0 534.0,1042.0C532.0,1044.0 528.1,1047.9 526.0,1050.0C523.9,1052.1 520.1,1056.8 518.0,1058.0C515.9,1059.2 511.9,1059.3 510.0,1059.0C508.1,1058.7 504.4,1055.6 504.0,1056.0C503.6,1056.4 506.3,1059.9 507.0,1062.0C507.7,1064.1 509.4,1069.9 509.0,1072.0C508.6,1074.1 505.5,1076.9 504.0,1078.0C502.5,1079.1 499.7,1079.5 498.0,1080.0C496.3,1080.5 492.2,1080.8 491.0,1082.0C489.8,1083.2 490.2,1087.5 489.0,1089.0C487.8,1090.5 482.9,1091.8 482.0,1093.0C481.1,1094.2 481.5,1097.1 482.0,1098.0C482.5,1098.9 486.1,1099.2 486.0,1100.0C485.9,1100.8 482.3,1102.7 481.0,1104.0C479.7,1105.3 476.7,1108.7 476.0,1110.0C475.3,1111.3 477.1,1112.9 476.0,1114.0C474.9,1115.1 467.9,1115.9 468.0,1118.0C468.1,1120.1 476.7,1127.1 477.0,1130.0C477.3,1132.9 471.9,1137.1 470.0,1140.0C468.1,1142.9 463.5,1149.1 463.0,1152.0C462.5,1154.9 465.3,1159.3 466.0,1162.0C466.7,1164.7 465.9,1170.0 468.0,1172.0C470.1,1174.0 481.2,1175.7 482.0,1177.0C482.8,1178.3 475.9,1180.8 474.0,1182.0C472.1,1183.2 469.3,1185.6 468.0,1186.0C466.7,1186.4 465.6,1185.9 464.0,1185.0C462.4,1184.1 458.7,1181.0 456.0,1179.0C453.3,1177.0 446.5,1172.3 444.0,1170.0C441.5,1167.7 438.2,1164.7 437.0,1162.0C435.8,1159.3 435.1,1154.0 435.0,1150.0C434.9,1146.0 436.3,1135.3 436.0,1132.0C435.7,1128.7 432.7,1127.1 433.0,1125.0C433.3,1122.9 437.3,1118.3 438.0,1116.0C438.7,1113.7 437.7,1111.7 438.0,1108.0C438.3,1104.3 439.2,1091.7 440.0,1088.0C440.8,1084.3 443.8,1082.3 444.0,1080.0C444.2,1077.7 441.5,1073.0 441.6,1071.0C441.7,1069.0 444.0,1066.7 445.0,1065.0C446.0,1063.3 448.2,1060.5 449.0,1058.0C449.8,1055.5 450.6,1050.3 451.0,1046.0C451.4,1041.7 451.6,1031.3 452.0,1026.0C452.4,1020.7 453.7,1011.6 454.0,1006.0C454.3,1000.4 455.2,987.9 454.4,984.0C453.6,980.1 450.2,978.5 448.0,977.0C445.8,975.5 440.4,975.0 438.0,973.0C435.6,971.0 431.9,965.1 430.0,962.0C428.1,958.9 425.6,953.1 424.0,950.0C422.4,946.9 419.5,940.9 418.0,939.0C416.5,937.1 413.8,936.9 413.0,936.0C412.2,935.1 411.7,933.5 412.0,932.0C412.3,930.5 414.7,926.9 415.0,925.0C415.3,923.1 413.7,920.0 414.0,918.0C414.3,916.0 415.9,911.9 417.0,910.0C418.1,908.1 420.8,905.6 422.0,904.0C423.2,902.4 425.3,900.1 426.0,898.0C426.7,895.9 427.0,890.8 427.0,888.0C427.0,885.2 425.6,879.0 426.0,877.0Z"/>
<path d="M712.0,752.0C708.5,750.0 705.6,747.9 704.0,745.0C702.4,742.1 700.5,734.5 700.0,730.0C699.5,725.5 698.7,713.6 700.0,711.0C701.3,708.4 706.3,710.6 710.0,710.5C713.7,710.4 725.3,710.9 728.0,710.0C730.7,709.1 730.4,705.6 730.5,704.0C730.6,702.4 731.1,698.9 729.0,698.0C726.9,697.1 717.3,697.8 715.0,697.0C712.7,696.2 711.6,693.5 712.0,692.0C712.4,690.5 715.9,687.3 718.0,686.0C720.1,684.7 726.5,683.3 728.0,682.0C729.5,680.7 727.7,677.3 729.0,676.0C730.3,674.7 735.8,673.7 738.0,672.0C740.2,670.3 743.6,665.6 745.6,663.4C747.6,661.2 749.7,657.6 753.0,655.5C756.3,653.4 768.0,649.6 770.0,647.5C772.0,645.4 768.4,642.2 768.1,640.0C767.8,637.8 767.5,632.6 767.7,630.6C767.8,628.6 769.5,626.8 769.1,625.0C768.6,623.2 765.5,619.2 764.4,617.5C763.2,615.8 761.6,613.6 760.6,611.9C759.6,610.1 757.6,606.9 756.9,604.4C756.2,601.9 755.6,596.1 755.5,593.1C755.3,590.1 755.6,584.0 755.9,581.9C756.2,579.8 757.1,578.3 757.8,577.2C758.6,576.1 760.5,574.3 761.6,573.4C762.6,572.6 764.1,572.5 765.8,570.6C767.5,568.8 772.2,562.5 774.2,559.8C776.1,557.0 779.2,552.7 780.6,550.1C782.0,547.6 783.8,543.8 784.8,540.5C785.7,537.2 786.0,529.0 787.5,525.4C789.0,521.7 793.9,515.4 795.8,513.0C797.6,510.6 799.6,509.1 801.2,507.5C802.9,505.9 805.2,502.3 808.1,500.6C811.1,499.0 818.7,495.7 823.2,495.1C827.8,494.6 837.7,496.3 842.5,496.5C847.3,496.7 857.1,495.8 859.0,496.5C860.9,497.2 856.0,501.1 856.9,502.0C857.9,502.9 864.1,502.8 865.9,503.4C867.6,503.9 868.4,504.8 870.0,506.1C871.6,507.4 876.0,511.4 878.2,513.0C880.5,514.6 884.3,517.4 886.5,518.5C888.7,519.6 892.9,520.1 894.8,521.2C896.6,522.4 899.5,525.3 900.2,526.8C901.0,528.2 900.6,531.0 900.2,532.2C899.9,533.5 898.8,535.3 897.5,536.4C896.2,537.5 893.0,539.6 890.6,540.5C888.2,541.4 881.6,542.1 879.6,543.2C877.6,544.4 875.5,547.5 875.5,548.8C875.5,550.0 878.5,552.7 879.6,552.9C880.7,553.1 882.1,549.8 883.8,550.1C885.4,550.5 890.4,555.8 892.0,555.6C893.6,555.4 895.2,550.2 896.1,548.8C897.0,547.3 898.0,545.7 898.9,544.6C899.8,543.5 901.7,541.8 903.0,540.5C904.3,539.2 907.4,536.1 908.5,535.0C909.6,533.9 910.7,533.5 911.2,532.2C911.8,531.0 913.0,527.2 912.6,525.4C912.3,523.5 908.7,519.8 908.5,518.5C908.3,517.2 910.0,515.9 911.2,515.8C912.5,515.6 916.7,516.4 918.1,517.1C919.6,517.9 922.1,520.0 922.2,521.2C922.4,522.5 920.2,525.6 919.5,526.8C918.8,527.9 916.4,528.8 916.8,529.5C917.1,530.2 920.8,532.6 922.2,532.2C923.7,531.9 926.1,528.2 927.8,526.8C929.4,525.3 932.6,522.5 934.6,521.2C936.6,520.0 940.5,518.0 942.9,517.1C945.3,516.2 950.1,515.0 952.5,514.4C954.9,513.7 958.8,512.8 960.8,512.3C962.7,511.9 966.1,511.5 967.4,510.9C968.6,510.4 970.0,510.1 970.0,508.0C970.0,505.9 968.2,497.1 967.4,495.4C966.5,493.7 965.5,496.0 963.5,495.4C961.5,494.8 955.1,492.9 952.5,491.0C949.9,489.1 945.9,483.4 944.2,481.4C942.6,479.4 940.1,477.4 940.1,475.9C940.2,474.4 943.2,472.6 944.5,470.0C945.8,467.4 948.0,460.2 949.5,456.2C951.0,452.2 954.6,443.5 955.8,440.0C956.9,436.5 956.8,432.7 958.2,430.0C959.8,427.3 964.5,422.5 967.0,420.0C969.5,417.5 973.7,412.9 977.0,411.2C980.3,409.6 988.8,408.8 992.0,407.5C995.2,406.2 998.8,402.5 1000.8,401.2C1002.8,400.0 1005.6,397.8 1007.0,398.0C1008.4,398.2 1010.9,401.2 1011.5,402.5C1012.1,403.8 1012.8,405.5 1011.5,407.5C1010.2,409.5 1004.6,415.2 1002.0,417.5C999.4,419.8 994.7,423.0 992.0,425.0C989.3,427.0 984.3,430.2 982.0,432.5C979.7,434.8 976.5,440.2 974.5,442.5C972.5,444.8 968.3,448.0 967.0,450.0C965.7,452.0 965.5,455.2 964.5,457.5C963.5,459.8 960.5,464.2 959.5,467.5C958.5,470.8 956.8,480.1 957.0,482.5C957.2,484.9 959.5,484.1 960.8,485.5C962.0,486.9 964.4,491.7 966.2,493.1C968.1,494.5 973.9,495.1 975.0,496.0C976.1,496.9 972.9,498.8 974.5,500.0C976.1,501.2 984.0,503.7 987.0,505.0C990.0,506.3 994.3,508.3 997.0,510.0C999.7,511.7 1005.3,516.8 1007.0,517.5C1008.7,518.2 1010.0,517.0 1009.5,515.0C1009.0,513.0 1004.4,505.8 1003.2,502.5C1002.1,499.2 1000.6,493.0 1000.8,490.0C1000.9,487.0 1003.3,483.0 1004.5,480.0C1005.7,477.0 1008.2,470.5 1009.5,467.5C1010.8,464.5 1013.2,459.2 1014.5,457.5C1015.8,455.8 1018.2,454.3 1019.5,455.0C1020.8,455.7 1023.5,459.8 1024.5,462.5C1025.5,465.2 1026.3,472.0 1027.0,475.0C1027.7,478.0 1029.2,484.7 1029.5,485.0C1029.8,485.3 1028.8,480.2 1029.5,477.5C1030.2,474.8 1033.2,464.3 1034.5,465.0C1035.8,465.7 1037.8,479.7 1039.5,482.5C1041.2,485.3 1046.7,487.2 1047.0,486.2C1047.3,485.2 1042.0,477.5 1042.0,475.0C1042.0,472.5 1045.0,467.8 1047.0,467.5C1049.0,467.2 1055.5,472.5 1057.0,472.5C1058.5,472.5 1058.2,469.8 1058.2,467.5C1058.2,465.2 1055.8,457.0 1057.0,455.0C1058.2,453.0 1063.7,453.2 1067.0,452.5C1070.3,451.8 1080.3,451.7 1082.0,450.0C1083.7,448.3 1078.8,442.7 1079.5,440.0C1080.2,437.3 1084.7,432.3 1087.0,430.0C1089.3,427.7 1094.3,424.2 1097.0,422.5C1099.7,420.8 1105.0,419.2 1107.0,417.5C1109.0,415.8 1111.7,411.8 1112.0,410.0C1112.3,408.2 1108.7,404.8 1109.5,403.8C1110.3,402.8 1116.9,403.7 1118.2,402.5C1119.6,401.3 1119.0,395.0 1119.5,395.0C1120.0,395.0 1121.2,400.8 1122.0,402.5C1122.8,404.2 1125.8,406.3 1125.8,407.5C1125.8,408.7 1121.2,410.1 1122.0,411.2C1122.8,412.4 1130.2,416.8 1132.0,416.2C1133.8,415.8 1134.4,409.3 1135.8,407.5C1137.1,405.7 1140.5,404.5 1142.0,402.5C1143.5,400.5 1145.5,394.7 1147.0,392.5C1148.5,390.3 1151.4,386.6 1153.2,386.2C1155.1,385.9 1160.2,388.5 1160.8,390.0C1161.2,391.5 1156.2,396.2 1157.0,397.5C1157.8,398.8 1166.2,398.8 1167.0,400.0C1167.8,401.2 1161.6,405.8 1163.2,406.2C1164.9,406.8 1176.3,403.2 1179.5,403.8C1182.7,404.2 1185.2,408.2 1187.0,410.0C1188.8,411.8 1192.9,415.8 1193.2,417.5C1193.6,419.2 1189.7,420.3 1189.5,422.5C1189.3,424.7 1193.0,431.1 1192.0,433.8C1191.0,436.4 1184.7,440.2 1182.0,442.5C1179.3,444.8 1174.3,449.1 1172.0,451.2C1169.7,453.4 1165.2,457.6 1164.5,458.8C1163.8,459.9 1164.7,460.7 1167.0,460.0C1169.3,459.3 1179.0,454.1 1182.0,453.8C1185.0,453.4 1187.5,457.2 1189.5,457.5C1191.5,457.8 1194.7,456.8 1197.0,456.2C1199.3,455.8 1204.0,452.9 1207.0,453.8C1210.0,454.6 1216.5,461.5 1219.5,462.5C1222.5,463.5 1227.2,462.6 1229.5,461.2C1231.8,459.9 1235.0,453.2 1237.0,452.5C1239.0,451.8 1242.5,455.6 1244.5,456.2C1246.5,456.9 1250.3,456.3 1252.0,457.5C1253.7,458.7 1256.5,462.7 1257.0,465.0C1257.5,467.3 1255.9,472.7 1255.5,475.0C1255.1,477.3 1253.2,480.2 1254.2,482.5C1255.2,484.8 1261.2,492.8 1263.0,492.5C1264.8,492.2 1266.3,481.0 1268.0,480.0C1269.7,479.0 1273.8,484.8 1275.5,485.0C1277.2,485.2 1278.8,481.2 1280.5,481.2C1282.2,481.2 1286.0,484.8 1288.0,485.0C1290.0,485.2 1294.3,483.5 1295.5,482.5C1296.7,481.5 1296.9,479.0 1296.8,477.5C1296.6,476.0 1293.4,472.8 1294.2,471.2C1295.1,469.8 1300.2,466.6 1303.0,466.2C1305.8,465.9 1311.8,467.9 1315.5,468.8C1319.2,469.6 1327.5,471.2 1330.5,472.5C1333.5,473.8 1337.3,477.4 1338.0,478.8C1338.7,480.1 1334.3,481.5 1335.5,482.5C1336.7,483.5 1345.1,484.9 1346.8,486.2C1348.4,487.6 1346.5,491.8 1348.0,492.5C1349.5,493.2 1354.7,491.4 1358.0,491.2C1361.3,491.1 1370.2,490.1 1373.0,491.2C1375.8,492.4 1378.2,498.2 1379.2,500.0C1380.2,501.8 1379.7,504.0 1380.5,505.0C1381.3,506.0 1383.5,507.5 1385.5,507.5C1387.5,507.5 1392.8,505.5 1395.5,505.0C1398.2,504.5 1403.3,504.2 1405.5,503.8C1407.7,503.2 1410.6,500.8 1411.8,501.2C1412.9,501.8 1414.2,506.0 1414.2,507.5C1414.2,509.0 1410.9,511.7 1411.8,512.5C1412.6,513.3 1419.3,514.9 1420.5,513.8C1421.7,512.6 1419.5,505.2 1420.5,503.8C1421.5,502.2 1425.0,502.4 1428.0,502.5C1431.0,502.6 1439.7,503.5 1443.0,504.5C1446.3,505.5 1450.3,508.1 1453.0,510.0C1455.7,511.9 1460.0,516.1 1463.0,518.8C1466.0,521.4 1471.5,527.8 1475.5,530.0C1479.5,532.2 1490.0,532.9 1493.0,535.0C1496.0,537.1 1497.9,543.7 1498.1,545.7C1498.2,547.7 1495.2,548.3 1494.0,549.8C1492.8,551.2 1490.5,554.5 1489.1,556.2C1487.7,558.0 1485.2,562.6 1483.4,562.8C1481.7,562.9 1477.8,558.6 1476.1,557.1C1474.5,555.5 1472.9,552.4 1471.2,551.4C1469.6,550.4 1465.1,550.7 1463.9,549.8C1462.7,548.8 1463.0,544.6 1462.3,544.1C1461.7,543.5 1459.3,544.9 1459.1,545.7C1458.8,546.4 1460.9,548.3 1460.7,549.8C1460.5,551.2 1459.0,554.8 1457.4,556.2C1455.9,557.7 1449.7,558.9 1449.3,560.3C1448.9,561.7 1453.1,564.9 1454.2,566.8C1455.3,568.8 1457.3,573.2 1457.4,574.9C1457.5,576.7 1456.2,579.4 1455.0,579.8C1453.8,580.2 1450.5,577.9 1448.5,578.2C1446.5,578.5 1442.5,581.1 1440.4,582.2C1438.2,583.4 1434.4,585.6 1432.2,587.1C1430.1,588.6 1426.1,591.9 1424.1,593.6C1422.2,595.4 1419.6,599.7 1417.6,600.1C1415.7,600.6 1411.7,597.1 1409.5,596.9C1407.3,596.7 1403.3,597.7 1401.4,598.5C1399.4,599.3 1396.2,601.5 1394.9,602.6C1393.6,603.6 1391.6,605.6 1391.6,606.6C1391.6,607.6 1395.3,609.0 1394.9,609.9C1394.4,610.7 1389.0,611.8 1388.4,613.1C1387.7,614.4 1389.9,617.7 1390.0,619.6C1390.1,621.6 1389.7,625.6 1389.2,627.8C1388.6,629.9 1387.1,633.9 1385.9,635.9C1384.7,637.8 1381.4,640.4 1380.2,642.4C1379.1,644.3 1378.0,648.4 1377.0,650.5C1376.0,652.6 1374.2,656.0 1372.9,657.8C1371.6,659.7 1368.7,664.3 1367.2,664.3C1365.8,664.3 1363.2,660.1 1362.4,657.8C1361.5,655.5 1361.1,650.2 1360.8,647.2C1360.4,644.3 1359.5,638.9 1359.9,635.9C1360.4,632.8 1362.6,627.3 1364.0,624.5C1365.4,621.7 1368.3,617.4 1370.5,614.8C1372.7,612.1 1377.9,607.8 1380.2,605.0C1382.6,602.2 1386.4,597.1 1388.4,593.6C1390.3,590.2 1394.7,579.9 1394.9,579.0C1395.1,578.1 1391.5,585.4 1390.0,587.1C1388.5,588.9 1385.1,591.0 1383.5,592.0C1381.9,593.0 1378.5,595.5 1377.8,594.4C1377.2,593.4 1379.4,585.2 1378.6,583.9C1377.9,582.6 1374.1,583.8 1372.1,584.7C1370.2,585.6 1366.2,588.1 1364.0,590.4C1361.8,592.6 1356.6,599.6 1355.9,601.8C1355.1,603.9 1359.0,605.8 1358.3,606.6C1357.7,607.5 1352.8,607.9 1351.0,608.2C1349.2,608.6 1346.3,609.7 1344.5,609.1C1342.7,608.4 1339.1,603.7 1337.2,603.4C1335.2,603.0 1331.9,606.2 1329.9,606.6C1327.8,607.1 1324.3,606.7 1321.8,606.6C1319.2,606.5 1312.8,605.2 1310.4,605.8C1308.0,606.5 1306.0,609.2 1303.9,611.5C1301.7,613.8 1297.2,619.4 1294.1,622.9C1291.1,626.3 1281.8,634.1 1281.1,637.5C1280.5,640.9 1287.5,647.3 1289.2,648.1C1291.0,648.8 1292.6,643.3 1294.1,643.2C1295.6,643.1 1299.3,645.8 1300.6,647.2C1301.9,648.7 1303.3,652.3 1303.9,653.8C1304.4,655.2 1305.2,656.2 1304.7,657.8C1304.1,659.4 1300.8,663.2 1299.8,665.9C1298.8,668.6 1298.3,675.4 1297.4,678.1C1296.4,680.8 1294.2,683.9 1292.5,686.2C1290.8,688.6 1286.5,693.0 1284.4,696.0C1282.2,699.0 1278.4,706.4 1276.2,709.0C1274.1,711.6 1270.3,714.2 1268.1,715.5C1266.0,716.8 1262.0,716.7 1260.0,718.8C1258.0,720.8 1254.5,728.4 1253.1,730.9C1251.7,733.4 1250.1,735.6 1249.4,737.5C1248.6,739.4 1247.9,743.0 1247.5,745.0C1247.1,747.0 1247.2,750.8 1246.6,752.5C1245.9,754.2 1243.9,757.2 1242.8,757.7C1241.7,758.2 1239.2,758.9 1238.1,756.2C1237.0,753.6 1235.2,740.8 1234.4,737.5C1233.6,734.2 1233.5,732.9 1232.2,731.4C1231.0,729.9 1226.3,726.3 1225.0,726.2C1223.7,726.2 1223.2,730.1 1222.2,730.9C1221.2,731.8 1218.2,731.1 1217.5,732.3C1216.8,733.6 1216.3,739.1 1217.2,740.3C1218.1,741.5 1222.7,740.8 1224.1,741.2C1225.5,741.8 1227.7,743.2 1227.8,744.1C1227.9,744.9 1226.2,747.2 1225.0,747.8C1223.8,748.4 1219.5,747.6 1218.4,748.8C1217.4,749.9 1216.8,754.2 1217.2,756.2C1217.6,758.2 1220.3,761.8 1221.2,763.8C1222.2,765.8 1223.9,769.4 1224.1,771.2C1224.2,773.1 1222.1,776.1 1222.2,777.8C1222.3,779.6 1225.1,782.8 1225.0,784.4C1224.9,786.0 1222.2,788.5 1221.2,790.0C1220.2,791.5 1218.2,793.2 1217.5,795.6C1216.8,798.0 1215.7,805.6 1215.6,807.8C1215.6,810.0 1219.9,811.2 1217.0,812.0C1214.1,812.8 1197.9,813.3 1194.0,813.6C1190.1,813.9 1190.1,813.4 1188.0,814.0C1185.9,814.6 1180.4,817.2 1178.0,818.0C1175.6,818.8 1171.9,818.9 1170.0,820.0C1168.1,821.1 1165.1,824.4 1164.0,826.0C1162.9,827.6 1161.6,830.4 1162.0,832.0C1162.4,833.6 1165.5,836.1 1167.0,838.0C1168.5,839.9 1172.1,843.9 1173.0,846.0C1173.9,848.1 1174.1,851.9 1174.0,854.0C1173.9,856.1 1173.1,860.5 1172.0,862.0C1170.9,863.5 1167.7,863.7 1166.0,865.0C1164.3,866.3 1160.3,871.7 1159.0,872.0C1157.7,872.3 1157.5,868.6 1156.0,867.0C1154.5,865.4 1149.8,861.8 1148.0,860.0C1146.2,858.2 1143.5,853.6 1142.4,853.6C1141.3,853.6 1140.0,857.9 1140.0,860.0C1140.0,862.1 1141.5,866.8 1142.4,869.0C1143.3,871.2 1145.4,874.5 1146.4,876.4C1147.4,878.3 1149.0,881.1 1150.0,883.0C1151.0,884.9 1152.8,888.8 1153.6,891.0C1154.4,893.2 1155.9,898.2 1156.0,899.6C1156.1,901.0 1155.3,901.9 1154.4,901.6C1153.5,901.3 1150.7,899.3 1149.0,897.6C1147.3,895.9 1143.1,891.5 1141.6,889.0C1140.1,886.5 1138.6,881.8 1137.6,879.0C1136.6,876.2 1135.1,870.8 1134.4,868.0C1133.7,865.2 1132.9,860.4 1132.4,858.0C1131.9,855.6 1132.0,851.9 1131.0,850.0C1130.0,848.1 1126.5,845.6 1125.0,844.0C1123.5,842.4 1121.7,838.5 1120.0,838.0C1118.3,837.5 1113.3,840.8 1112.0,840.0C1110.7,839.2 1111.3,834.4 1110.0,832.0C1108.7,829.6 1103.6,824.5 1102.0,822.0C1100.4,819.5 1098.5,814.7 1098.0,813.6C1097.5,812.5 1098.1,814.1 1098.0,813.6C1097.9,813.1 1098.5,810.5 1097.0,810.0C1095.5,809.5 1088.5,809.5 1087.0,810.0C1085.5,810.5 1086.9,812.5 1086.0,813.6C1085.1,814.7 1082.1,815.8 1080.0,818.0C1077.9,820.2 1072.7,827.5 1070.0,830.0C1067.3,832.5 1062.0,835.7 1060.0,837.0C1058.0,838.3 1056.1,838.0 1055.0,840.0C1053.9,842.0 1052.9,849.3 1052.0,852.0C1051.1,854.7 1049.5,857.9 1048.0,860.0C1046.5,862.1 1042.6,867.2 1041.0,868.0C1039.4,868.8 1037.5,867.6 1036.0,866.0C1034.5,864.4 1031.3,859.5 1030.0,856.0C1028.7,852.5 1026.8,845.3 1026.0,840.0C1025.2,834.7 1024.4,820.0 1024.0,816.0C1023.6,812.0 1025.7,811.4 1023.0,810.0C1020.3,808.6 1007.1,806.5 1004.0,805.6C1000.9,804.7 1002.1,803.6 1000.0,803.0C997.9,802.4 991.7,801.4 988.0,801.0C984.3,800.6 975.7,800.7 972.0,800.0C968.3,799.3 962.8,796.3 960.0,796.0C957.2,795.7 952.6,798.0 951.0,798.0C949.4,798.0 949.5,797.3 948.0,796.0C946.5,794.7 941.9,790.0 940.0,788.0C938.1,786.0 935.5,782.3 934.0,781.0C932.5,779.7 930.2,778.0 929.0,778.0C927.8,778.0 925.1,779.9 925.0,781.0C924.9,782.1 926.5,784.3 928.0,786.0C929.5,787.7 934.1,791.9 936.0,794.0C937.9,796.1 940.4,800.1 942.0,802.0C943.6,803.9 945.6,806.8 948.0,808.0C950.4,809.2 957.3,810.2 960.0,811.0C962.7,811.8 966.3,813.3 968.0,814.0C969.7,814.7 972.1,815.2 972.4,816.2C972.7,817.2 972.0,818.7 970.0,821.2C968.0,823.7 960.7,832.5 957.4,835.0C954.1,837.5 948.3,838.3 945.0,840.0C941.7,841.7 935.7,845.7 932.4,847.4C929.1,849.1 921.8,851.9 920.0,852.4C918.2,852.9 920.2,853.2 918.8,851.2C917.2,849.3 911.8,841.7 908.8,837.5C905.8,833.3 899.1,824.7 896.2,820.0C893.4,815.3 889.5,806.2 887.5,802.5C885.5,798.8 882.5,794.5 881.2,792.5C880.0,790.5 880.8,789.2 878.0,787.5C875.2,785.8 870.4,782.3 860.0,780.0C849.6,777.7 817.3,772.7 800.0,770.0C782.7,767.3 741.7,762.4 730.0,760.0C718.3,757.6 715.5,754.0 712.0,752.0Z"/>
<path d="M716.0,747.0C715.7,747.7 715.1,748.3 714.0,750.0C712.9,751.7 709.9,757.1 708.0,760.0C706.1,762.9 702.4,768.8 700.0,772.0C697.6,775.2 692.4,781.2 690.0,784.0C687.6,786.8 684.2,790.2 682.0,793.0C679.8,795.8 675.5,802.1 673.8,805.0C672.0,807.9 669.1,811.7 668.8,815.0C668.4,818.3 671.4,826.3 671.2,830.0C671.1,833.7 668.2,839.5 667.5,842.5C666.8,845.5 664.9,849.7 666.2,852.5C667.6,855.3 674.7,860.8 677.5,863.8C680.3,866.8 684.8,872.3 687.5,875.0C690.2,877.7 695.2,881.8 697.5,883.8C699.8,885.7 702.3,889.2 705.0,889.5C707.7,889.8 713.5,886.9 717.5,886.2C721.5,885.6 730.7,885.4 735.0,885.0C739.3,884.6 746.7,882.2 750.0,883.0C753.3,883.8 757.0,890.0 760.0,891.2C763.0,892.5 770.7,891.3 772.5,892.5C774.3,893.7 773.8,897.3 773.8,900.0C773.8,902.7 771.7,909.2 772.5,912.5C773.3,915.8 778.2,921.7 780.0,925.0C781.8,928.3 785.1,934.5 786.2,937.5C787.4,940.5 788.1,945.2 788.8,947.5C789.4,949.8 791.8,952.7 791.2,955.0C790.8,957.3 786.2,962.3 785.0,965.0C783.8,967.7 782.3,972.0 782.5,975.0C782.7,978.0 784.9,984.2 786.2,987.5C787.6,990.8 791.2,996.2 792.5,1000.0C793.8,1003.8 794.9,1011.6 796.2,1016.2C797.6,1020.9 801.0,1030.8 802.5,1035.0C804.0,1039.2 806.0,1044.2 807.5,1047.5C809.0,1050.8 811.8,1058.5 813.8,1060.0C815.8,1061.5 820.0,1059.1 822.5,1058.8C825.0,1058.4 829.5,1058.2 832.5,1057.5C835.5,1056.8 842.0,1055.4 845.0,1053.8C848.0,1052.1 852.7,1047.5 855.0,1045.0C857.3,1042.5 860.8,1037.7 862.5,1035.0C864.2,1032.3 866.3,1027.5 867.5,1025.0C868.7,1022.5 869.9,1018.1 871.2,1016.2C872.6,1014.4 876.5,1014.4 877.5,1011.2C878.5,1008.1 877.4,996.2 878.8,992.5C880.1,988.8 885.0,985.8 887.5,983.8C890.0,981.8 895.8,980.7 897.5,977.5C899.2,974.3 900.2,964.7 900.0,960.0C899.8,955.3 896.9,946.5 896.2,942.5C895.6,938.5 894.5,933.0 895.0,930.0C895.5,927.0 898.0,922.8 900.0,920.0C902.0,917.2 907.0,912.1 910.0,908.8C913.0,905.4 919.2,898.8 922.5,895.0C925.8,891.2 932.2,884.0 935.0,880.0C937.8,876.0 941.9,868.2 943.8,865.0C945.6,861.8 950.2,857.1 948.8,856.2C947.2,855.4 937.0,858.1 932.5,858.8C928.0,859.4 918.3,862.4 915.0,861.2C911.7,860.1 909.5,852.8 907.5,850.0C905.5,847.2 902.3,843.0 900.0,840.0C897.7,837.0 892.0,830.8 890.0,827.5C888.0,824.2 886.3,818.0 885.0,815.0C883.7,812.0 881.3,807.7 880.0,805.0C878.7,802.3 876.0,797.0 875.0,795.0C874.0,793.0 872.6,791.2 872.5,790.0C872.4,788.8 873.3,789.3 874.0,786.0C874.7,782.7 879.9,771.1 878.0,765.0C876.1,758.9 870.4,744.0 860.0,740.0C849.6,736.0 819.2,734.3 800.0,735.0C780.8,735.7 727.2,743.4 716.0,745.0C704.8,746.6 716.3,746.3 716.0,747.0Z"/>
<path d="M915.0,1020.0C913.5,1018.5 911.6,1009.3 911.2,1005.0C910.9,1000.7 911.8,991.5 912.5,987.5C913.2,983.5 914.9,977.5 916.2,975.0C917.6,972.5 920.7,970.8 922.5,968.8C924.3,966.8 928.2,961.7 930.0,960.0C931.8,958.3 935.1,955.2 936.2,956.2C937.4,957.2 938.9,964.0 938.8,967.5C938.6,971.0 936.0,978.8 935.0,982.5C934.0,986.2 932.2,991.7 931.2,995.0C930.2,998.3 928.7,1004.7 927.5,1007.5C926.3,1010.3 924.2,1014.6 922.5,1016.2C920.8,1017.9 916.5,1021.5 915.0,1020.0Z"/>
<path d="M638.0,549.0C638.1,546.9 644.9,539.2 647.0,538.0C649.1,536.8 652.3,540.0 654.0,540.0C655.7,540.0 658.1,538.0 660.0,538.0C661.9,538.0 665.6,539.2 668.0,540.0C670.4,540.8 676.1,542.4 678.0,544.0C679.9,545.6 682.0,549.9 682.0,552.0C682.0,554.1 679.6,558.4 678.0,560.0C676.4,561.6 672.4,563.1 670.0,564.0C667.6,564.9 662.1,566.9 660.0,567.0C657.9,567.1 655.6,564.9 654.0,565.0C652.4,565.1 649.3,568.1 648.0,568.0C646.7,567.9 643.7,565.1 644.0,564.0C644.3,562.9 650.5,560.8 650.0,560.0C649.5,559.2 640.5,558.8 640.0,558.0C639.5,557.2 646.3,555.2 646.0,554.0C645.7,552.8 637.9,551.1 638.0,549.0Z"/>
<path d="M709.1,621.2C709.3,619.9 712.4,617.1 713.8,615.6C715.1,614.1 718.0,611.4 719.4,610.0C720.8,608.6 723.2,605.9 724.1,605.3C724.9,604.8 725.8,605.2 725.9,605.8C726.1,606.4 726.0,608.9 725.5,610.0C725.0,611.1 722.7,612.9 722.2,613.8C721.7,614.6 721.0,615.8 721.7,616.1C722.5,616.4 726.6,615.8 727.8,616.1C729.0,616.4 730.5,617.5 730.6,618.4C730.8,619.4 729.2,622.0 728.8,623.1C728.2,624.2 726.8,625.6 726.9,626.9C727.0,628.1 728.9,631.0 729.7,632.5C730.4,634.0 731.6,636.8 732.5,638.1C733.4,639.5 735.2,641.3 736.2,642.8C737.2,644.3 739.0,647.8 740.0,649.4C741.0,651.0 743.4,653.4 743.8,655.0C744.1,656.6 743.2,660.1 742.8,661.6C742.4,663.1 741.8,665.4 740.9,666.2C740.1,667.1 738.1,667.9 736.2,668.1C734.4,668.4 729.1,667.8 726.9,668.1C724.6,668.5 721.0,670.4 719.4,670.9C717.8,671.4 715.4,672.2 714.7,671.9C713.9,671.5 713.4,669.1 713.8,668.1C714.1,667.1 716.6,665.4 717.5,664.4C718.4,663.4 720.3,661.8 720.3,660.6C720.3,659.5 717.5,657.2 717.5,655.9C717.5,654.7 719.5,652.8 720.3,651.2C721.1,649.8 723.7,646.3 723.6,644.7C723.5,643.1 720.4,640.4 719.4,639.1C718.3,637.7 716.6,636.1 715.6,634.4C714.6,632.6 712.8,627.7 711.9,625.9C711.0,624.2 708.8,622.6 709.1,621.2Z"/>
<path d="M695.0,641.9C695.6,640.8 698.9,639.1 700.6,638.1C702.4,637.1 706.6,634.6 708.1,634.4C709.6,634.1 711.1,635.5 711.9,636.2C712.6,637.0 713.6,638.9 713.8,640.0C713.9,641.1 713.5,643.4 713.3,644.7C713.0,645.9 712.4,648.0 711.9,649.4C711.3,650.8 709.9,653.6 709.1,655.0C708.2,656.4 706.7,658.8 705.3,659.7C703.9,660.6 700.2,661.8 698.8,661.6C697.2,661.3 694.6,659.1 694.1,657.8C693.6,656.6 694.8,653.7 695.0,652.2C695.2,650.7 695.9,647.9 695.9,646.6C695.9,645.2 694.4,643.0 695.0,641.9Z"/>
<path d="M704.8,581.4C705.0,580.3 707.2,578.8 708.1,578.6C709.0,578.4 710.9,579.2 711.4,580.0C711.9,580.8 712.1,583.6 711.9,584.7C711.7,585.8 710.6,588.1 710.0,588.4C709.4,588.8 707.9,588.0 707.2,587.0C706.5,586.1 704.7,582.5 704.8,581.4Z"/>
<path d="M724.5,598.3C724.5,597.7 727.2,596.2 727.8,595.0C728.4,593.8 728.8,590.2 729.2,589.4C729.7,588.5 730.5,588.4 731.1,588.4C731.7,588.5 733.6,589.0 733.9,589.8C734.2,590.7 733.8,593.6 733.4,595.0C733.1,596.4 732.3,600.0 731.6,600.6C730.8,601.2 728.8,600.0 727.8,599.7C726.9,599.4 724.5,598.9 724.5,598.3Z"/>
<path d="M1098.2,336.2C1098.2,332.6 1102.8,323.7 1104.5,320.0C1106.2,316.3 1109.4,309.8 1110.8,308.8C1112.1,307.8 1113.5,313.0 1114.5,312.5C1115.5,312.0 1117.4,305.0 1118.2,305.0C1119.1,305.0 1119.8,310.7 1120.8,312.5C1121.8,314.3 1125.2,316.8 1125.8,318.8C1126.2,320.8 1123.7,325.3 1124.5,327.5C1125.3,329.7 1130.5,332.7 1132.0,335.0C1133.5,337.3 1135.4,342.3 1135.8,345.0C1136.1,347.7 1135.2,352.3 1134.5,355.0C1133.8,357.7 1132.4,364.0 1130.8,365.0C1129.1,366.0 1124.5,363.8 1122.0,362.5C1119.5,361.2 1114.3,357.0 1112.0,355.0C1109.7,353.0 1106.3,350.0 1104.5,347.5C1102.7,345.0 1098.2,339.9 1098.2,336.2Z"/>
<path d="M1132.0,381.2C1131.7,378.9 1135.2,366.7 1137.0,362.5C1138.8,358.3 1143.6,350.7 1145.8,350.0C1147.9,349.3 1151.8,355.3 1153.2,357.5C1154.8,359.7 1156.8,364.2 1157.0,366.2C1157.2,368.2 1155.8,371.2 1154.5,372.5C1153.2,373.8 1149.0,375.2 1147.0,376.2C1145.0,377.2 1141.5,379.3 1139.5,380.0C1137.5,380.7 1132.3,383.6 1132.0,381.2Z"/>
<path d="M1285.5,420.0C1286.2,417.3 1291.3,412.8 1293.0,412.5C1294.7,412.2 1296.8,416.0 1298.0,417.5C1299.2,419.0 1300.8,424.1 1301.8,423.8C1302.8,423.4 1304.0,415.2 1305.5,414.5C1307.0,413.8 1311.3,417.4 1313.0,418.8C1314.7,420.1 1317.7,423.2 1318.0,425.0C1318.3,426.8 1316.8,431.2 1315.5,432.5C1314.2,433.8 1309.7,434.8 1308.0,435.0C1306.3,435.2 1304.7,433.5 1303.0,433.8C1301.3,434.0 1297.5,437.2 1295.5,437.0C1293.5,436.8 1289.3,434.8 1288.0,432.5C1286.7,430.2 1284.8,422.7 1285.5,420.0Z"/>
<path d="M1278.0,418.0C1278.2,416.5 1280.5,416.2 1281.0,417.5C1281.5,418.8 1282.2,426.0 1282.0,427.5C1281.8,429.0 1279.8,430.0 1279.2,428.8C1278.7,427.5 1277.8,419.5 1278.0,418.0Z"/>
<path d="M1323.0,423.8C1324.2,423.6 1330.5,426.3 1333.0,427.5C1335.5,428.7 1341.1,431.2 1341.8,432.5C1342.4,433.8 1339.7,436.8 1338.0,437.0C1336.3,437.2 1331.1,434.9 1329.2,433.8C1327.4,432.6 1325.1,430.1 1324.2,428.8C1323.4,427.4 1321.8,423.9 1323.0,423.8Z"/>
<path d="M1296.8,456.2C1297.2,455.1 1301.0,450.0 1303.0,450.0C1305.0,450.0 1311.4,454.9 1311.8,456.2C1312.1,457.6 1307.2,459.7 1305.5,460.0C1303.8,460.3 1300.4,459.2 1299.2,458.8C1298.1,458.2 1296.2,457.4 1296.8,456.2Z"/>
<path d="M1298.0,446.2C1298.2,445.7 1300.4,445.2 1301.0,445.5C1301.6,445.8 1302.7,448.2 1302.5,448.8C1302.3,449.3 1300.1,449.8 1299.5,449.5C1298.9,449.2 1297.8,446.8 1298.0,446.2Z"/>
<path d="M1051.0,868.0C1051.4,866.5 1054.7,865.5 1056.0,866.0C1057.3,866.5 1060.6,870.3 1061.0,872.0C1061.4,873.7 1060.1,878.3 1059.0,879.0C1057.9,879.7 1054.1,878.5 1053.0,877.0C1051.9,875.5 1050.6,869.5 1051.0,868.0Z"/>
<path d="M1021.0,858.0C1021.5,856.9 1024.7,854.9 1026.0,855.0C1027.3,855.1 1030.5,857.5 1031.0,859.0C1031.5,860.5 1030.8,864.8 1030.0,866.0C1029.2,867.2 1026.0,868.3 1025.0,868.0C1024.0,867.7 1022.9,864.9 1022.4,863.6C1021.9,862.3 1020.5,859.1 1021.0,858.0Z"/>
<path d="M1026.2,878.8C1026.8,877.8 1029.7,876.8 1030.5,877.5C1031.3,878.2 1032.6,882.4 1032.5,883.8C1032.4,885.1 1030.3,887.8 1029.5,888.0C1028.7,888.2 1027.2,886.2 1026.8,885.0C1026.3,883.8 1025.8,879.8 1026.2,878.8Z"/>
<path d="M1027.5,891.2C1028.1,890.2 1031.3,889.0 1032.0,890.0C1032.7,891.0 1033.3,897.1 1033.0,898.8C1032.7,900.4 1030.7,902.6 1030.0,902.5C1029.3,902.4 1027.8,899.5 1027.5,898.0C1027.2,896.5 1026.9,892.3 1027.5,891.2Z"/>
<path d="M1028.8,905.5C1029.2,904.3 1031.9,904.1 1032.5,905.0C1033.1,905.9 1033.4,911.3 1033.0,912.5C1032.6,913.7 1030.1,914.7 1029.5,913.8C1028.9,912.8 1028.3,906.7 1028.8,905.5Z"/>
<path d="M1107.0,850.0C1107.6,848.5 1109.8,848.2 1110.4,849.0C1111.0,849.8 1111.8,854.1 1111.6,856.0C1111.4,857.9 1109.7,862.5 1109.0,863.0C1108.3,863.5 1106.3,861.7 1106.0,860.0C1105.7,858.3 1106.4,851.5 1107.0,850.0Z"/>
<path d="M1107.6,869.0C1107.9,868.3 1110.3,869.9 1111.0,871.0C1111.7,872.1 1113.0,875.7 1113.0,877.0C1113.0,878.3 1111.6,880.5 1111.0,880.4C1110.4,880.3 1108.9,877.5 1108.4,876.0C1107.9,874.5 1107.3,869.7 1107.6,869.0Z"/>
<path d="M1169.6,830.0C1170.0,829.1 1172.7,826.4 1174.0,826.0C1175.3,825.6 1179.1,826.1 1179.4,827.0C1179.7,827.9 1177.1,831.6 1176.0,832.4C1174.9,833.2 1171.9,833.3 1171.0,833.0C1170.1,832.7 1169.2,830.9 1169.6,830.0Z"/>
<path d="M1218.0,810.0C1218.4,808.6 1220.9,803.8 1222.0,803.0C1223.1,802.2 1225.9,802.8 1226.0,804.0C1226.1,805.2 1223.9,810.7 1223.0,812.0C1222.1,813.3 1219.7,813.9 1219.0,813.6C1218.3,813.3 1217.6,811.4 1218.0,810.0Z"/>
<path d="M1219.0,834.0C1219.4,833.0 1222.1,831.6 1223.0,832.4C1223.9,833.2 1225.1,837.9 1226.0,840.0C1226.9,842.1 1229.3,846.1 1230.0,848.0C1230.7,849.9 1231.5,853.5 1231.0,854.0C1230.5,854.5 1227.2,852.0 1226.0,852.0C1224.8,852.0 1222.4,854.5 1222.0,854.0C1221.6,853.5 1223.5,849.2 1223.0,848.0C1222.5,846.8 1218.4,846.1 1218.0,845.0C1217.6,843.9 1219.9,841.5 1220.0,840.0C1220.1,838.5 1218.6,835.0 1219.0,834.0Z"/>
<path d="M1227.0,859.6C1227.2,858.9 1229.3,858.3 1230.0,859.0C1230.7,859.7 1231.9,863.5 1232.0,865.0C1232.1,866.5 1231.5,869.5 1231.0,870.0C1230.5,870.5 1228.3,869.8 1228.0,869.0C1227.7,868.2 1228.5,865.3 1228.4,864.0C1228.3,862.7 1226.8,860.3 1227.0,859.6Z"/>
<path d="M1228.0,871.0C1228.3,870.0 1230.9,869.6 1231.6,870.4C1232.3,871.2 1233.3,876.0 1233.0,877.0C1232.7,878.0 1230.3,878.8 1229.6,878.0C1228.9,877.2 1227.7,872.0 1228.0,871.0Z"/>
<path d="M1239.0,870.0C1239.7,868.9 1243.1,867.5 1244.0,868.0C1244.9,868.5 1246.3,872.5 1246.0,874.0C1245.7,875.5 1243.0,878.7 1242.0,879.0C1241.0,879.3 1238.8,877.2 1238.4,876.0C1238.0,874.8 1238.3,871.1 1239.0,870.0Z"/>
<path d="M1222.0,882.4C1222.2,881.9 1223.7,881.6 1224.0,882.0C1224.3,882.4 1224.6,885.1 1224.4,885.6C1224.2,886.1 1222.7,886.4 1222.4,886.0C1222.1,885.6 1221.8,882.9 1222.0,882.4Z"/>
<path d="M1206.0,874.0C1207.0,872.5 1214.2,865.1 1215.6,864.0C1217.0,862.9 1217.8,864.1 1216.8,865.6C1215.8,867.1 1209.4,874.5 1208.0,875.6C1206.6,876.7 1205.0,875.5 1206.0,874.0Z"/>
<path d="M1125.0,888.0C1125.4,887.3 1128.3,887.9 1130.0,889.0C1131.7,890.1 1135.6,893.7 1138.0,896.0C1140.4,898.3 1145.3,903.5 1148.0,906.0C1150.7,908.5 1156.0,912.9 1158.0,915.0C1160.0,917.1 1162.2,920.1 1163.0,922.0C1163.8,923.9 1164.4,927.9 1164.0,929.0C1163.6,930.1 1161.3,930.4 1160.0,930.0C1158.7,929.6 1155.9,927.3 1154.0,926.0C1152.1,924.7 1148.0,921.9 1146.0,920.0C1144.0,918.1 1140.9,914.4 1139.0,912.0C1137.1,909.6 1133.6,904.4 1132.0,902.0C1130.4,899.6 1127.9,895.9 1127.0,894.0C1126.1,892.1 1124.6,888.7 1125.0,888.0Z"/>
<path d="M1160.4,913.6C1160.6,912.9 1163.0,912.5 1163.6,913.0C1164.2,913.5 1165.2,916.3 1165.0,917.0C1164.8,917.7 1162.6,918.5 1162.0,918.0C1161.4,917.5 1160.2,914.3 1160.4,913.6Z"/>
<path d="M1162.0,938.0C1161.9,937.2 1165.4,934.9 1167.0,934.4C1168.6,933.9 1172.0,934.2 1174.0,934.4C1176.0,934.6 1179.9,935.0 1182.0,935.6C1184.1,936.2 1188.3,938.0 1190.0,939.0C1191.7,940.0 1194.5,942.1 1195.0,943.0C1195.5,943.9 1195.2,945.7 1194.0,946.0C1192.8,946.3 1188.4,945.5 1186.0,945.0C1183.6,944.5 1178.4,942.6 1176.0,942.0C1173.6,941.4 1169.9,940.9 1168.0,940.4C1166.1,939.9 1162.1,938.8 1162.0,938.0Z"/>
<path d="M1205.6,944.0C1206.0,943.6 1208.7,942.9 1210.0,942.8C1211.3,942.7 1214.7,943.2 1215.0,943.6C1215.3,944.0 1213.1,945.3 1212.0,945.6C1210.9,945.9 1207.9,946.0 1207.0,945.8C1206.1,945.6 1205.2,944.4 1205.6,944.0Z"/>
<path d="M1218.0,943.0C1218.6,942.6 1222.5,941.9 1224.0,942.0C1225.5,942.1 1228.9,943.1 1229.0,943.6C1229.1,944.1 1226.3,945.2 1225.0,945.4C1223.7,945.6 1220.5,945.3 1219.6,945.0C1218.7,944.7 1217.4,943.4 1218.0,943.0Z"/>
<path d="M1233.0,948.0C1233.5,947.2 1240.3,942.1 1242.0,941.0C1243.7,939.9 1245.6,939.6 1246.0,940.0C1246.4,940.4 1246.1,943.1 1245.0,944.0C1243.9,944.9 1239.6,946.5 1238.0,947.0C1236.4,947.5 1232.5,948.8 1233.0,948.0Z"/>
<path d="M1244.0,920.4C1244.2,919.9 1245.7,919.6 1246.0,920.0C1246.3,920.4 1246.6,922.7 1246.4,923.2C1246.2,923.7 1244.7,924.0 1244.4,923.6C1244.1,923.2 1243.8,920.9 1244.0,920.4Z"/>
<path d="M1121.0,955.6C1121.3,954.9 1125.7,954.4 1126.0,955.0C1126.3,955.6 1124.3,959.9 1123.6,960.0C1122.9,960.1 1120.7,956.3 1121.0,955.6Z"/>
<path d="M1174.0,902.0C1174.8,900.9 1180.5,900.8 1182.0,900.0C1183.5,899.2 1183.7,897.1 1185.0,896.0C1186.3,894.9 1190.3,893.3 1192.0,892.0C1193.7,890.7 1196.1,887.6 1198.0,886.0C1199.9,884.4 1204.0,880.1 1206.0,880.0C1208.0,879.9 1212.5,883.4 1213.0,885.0C1213.5,886.6 1210.1,889.7 1210.0,892.0C1209.9,894.3 1212.1,899.6 1212.0,902.0C1211.9,904.4 1210.1,907.9 1209.0,910.0C1207.9,912.1 1205.5,916.1 1204.0,918.0C1202.5,919.9 1199.9,923.5 1198.0,924.0C1196.1,924.5 1192.0,922.4 1190.0,922.0C1188.0,921.6 1184.5,922.1 1183.0,921.0C1181.5,919.9 1179.9,915.7 1179.0,914.0C1178.1,912.3 1176.7,909.6 1176.0,908.0C1175.3,906.4 1173.2,903.1 1174.0,902.0Z"/>
<path d="M1215.0,910.0C1216.1,908.1 1220.0,904.9 1222.0,904.0C1224.0,903.1 1227.9,903.3 1230.0,903.0C1232.1,902.7 1237.1,901.6 1238.0,902.0C1238.9,902.4 1238.3,905.3 1237.0,906.0C1235.7,906.7 1230.0,906.5 1228.0,907.0C1226.0,907.5 1221.7,909.6 1222.0,910.0C1222.3,910.4 1228.5,909.7 1230.0,910.0C1231.5,910.3 1233.5,911.3 1233.0,912.0C1232.5,912.7 1226.7,913.7 1226.0,915.0C1225.3,916.3 1228.0,920.5 1228.0,922.0C1228.0,923.5 1226.8,926.3 1226.0,926.0C1225.2,925.7 1223.1,919.5 1222.0,920.0C1220.9,920.5 1218.9,928.9 1218.0,930.0C1217.1,931.1 1215.3,929.3 1215.0,928.0C1214.7,926.7 1216.2,921.3 1216.0,920.0C1215.8,918.7 1213.7,919.3 1213.6,918.0C1213.5,916.7 1213.9,911.9 1215.0,910.0Z"/>
<path d="M1264.0,909.0C1264.4,908.2 1267.7,907.5 1269.0,908.0C1270.3,908.5 1273.7,911.9 1274.0,913.0C1274.3,914.1 1272.1,915.9 1271.0,916.0C1269.9,916.1 1266.9,914.9 1266.0,914.0C1265.1,913.1 1263.6,909.8 1264.0,909.0Z"/>
<path d="M1269.0,920.0C1269.5,919.2 1274.1,918.0 1276.0,918.0C1277.9,918.0 1281.4,920.4 1283.0,920.0C1284.6,919.6 1286.3,915.8 1288.0,915.0C1289.7,914.2 1293.6,913.9 1296.0,914.0C1298.4,914.1 1303.3,915.2 1306.0,916.0C1308.7,916.8 1313.9,918.7 1316.0,920.0C1318.1,921.3 1320.5,924.4 1322.0,926.0C1323.5,927.6 1325.9,930.3 1327.0,932.0C1328.1,933.7 1328.9,937.4 1330.0,939.0C1331.1,940.6 1333.5,942.5 1335.0,944.0C1336.5,945.5 1340.6,949.1 1341.0,950.0C1341.4,950.9 1339.6,951.4 1338.0,951.0C1336.4,950.6 1331.0,948.1 1329.0,947.0C1327.0,945.9 1324.7,943.4 1323.0,943.0C1321.3,942.6 1317.7,944.0 1316.0,944.0C1314.3,944.0 1311.9,943.4 1310.0,943.0C1308.1,942.6 1303.9,941.0 1302.0,941.0C1300.1,941.0 1297.5,942.9 1296.0,943.0C1294.5,943.1 1291.4,942.8 1291.0,942.0C1290.6,941.2 1293.1,938.5 1293.0,937.0C1292.9,935.5 1291.1,932.2 1290.0,931.0C1288.9,929.8 1286.5,928.7 1285.0,928.0C1283.5,927.3 1280.7,926.5 1279.0,926.0C1277.3,925.5 1273.3,924.8 1272.0,924.0C1270.7,923.2 1268.5,920.8 1269.0,920.0Z"/>
<path d="M1333.0,931.0C1333.8,930.3 1339.9,928.9 1342.0,928.0C1344.1,927.1 1347.9,924.1 1349.0,924.0C1350.1,923.9 1350.7,925.9 1350.0,927.0C1349.3,928.1 1345.9,931.1 1344.0,932.0C1342.1,932.9 1337.5,933.7 1336.0,933.6C1334.5,933.5 1332.2,931.7 1333.0,931.0Z"/>
<path d="M1358.0,931.0C1358.1,930.6 1359.8,931.1 1360.4,931.6C1361.0,932.1 1362.5,934.4 1362.4,934.8C1362.3,935.2 1360.6,934.9 1360.0,934.4C1359.4,933.9 1357.9,931.4 1358.0,931.0Z"/>
<path d="M1365.0,935.2C1365.2,934.9 1367.1,935.2 1367.6,935.6C1368.1,936.0 1368.8,938.1 1368.6,938.4C1368.4,938.7 1366.5,938.4 1366.0,938.0C1365.5,937.6 1364.8,935.5 1365.0,935.2Z"/>
<path d="M1370.0,938.4C1370.5,938.3 1373.9,939.3 1375.0,940.0C1376.1,940.7 1378.4,943.5 1378.4,944.0C1378.4,944.5 1376.0,944.0 1375.0,943.6C1374.0,943.2 1371.7,941.7 1371.0,941.0C1370.3,940.3 1369.5,938.5 1370.0,938.4Z"/>
<path d="M1376.4,943.6C1376.9,943.3 1380.7,943.7 1382.0,944.4C1383.3,945.1 1385.9,948.5 1386.0,949.0C1386.1,949.5 1383.5,948.7 1382.4,948.4C1381.3,948.1 1378.8,947.0 1378.0,946.4C1377.2,945.8 1375.9,943.9 1376.4,943.6Z"/>
<path d="M1392.9,992.7C1392.9,992.1 1395.7,992.4 1397.3,993.3C1398.9,994.3 1404.0,998.7 1404.9,999.9C1405.8,1001.0 1404.8,1001.9 1403.8,1001.6C1402.8,1001.3 1398.7,998.9 1397.3,997.7C1395.8,996.5 1392.9,993.3 1392.9,992.7Z"/>
<path d="M1191.8,1006.4C1191.9,1003.9 1192.5,1002.4 1193.9,1000.9C1195.4,999.5 1200.0,996.7 1202.6,995.5C1205.2,994.3 1210.9,993.1 1213.5,992.2C1216.1,991.4 1220.3,990.4 1222.2,989.0C1224.1,987.5 1226.5,983.0 1227.6,981.4C1228.8,979.8 1229.9,978.2 1230.9,977.0C1231.9,975.9 1233.5,974.1 1235.2,972.7C1237.0,971.2 1242.1,966.6 1244.0,966.1C1245.8,965.7 1247.8,969.3 1249.4,969.4C1251.0,969.5 1254.6,968.4 1255.9,967.2C1257.2,966.1 1257.7,962.3 1259.2,960.7C1260.6,959.1 1264.5,955.6 1266.8,955.3C1269.1,955.0 1274.3,958.1 1276.6,958.5C1278.9,959.0 1283.3,957.5 1284.2,958.5C1285.1,959.5 1282.7,964.4 1283.1,966.1C1283.5,967.9 1285.9,969.8 1287.5,971.6C1289.0,973.3 1293.3,978.0 1295.1,979.2C1296.8,980.3 1299.3,981.0 1300.5,980.3C1301.7,979.5 1303.2,976.4 1303.8,973.8C1304.3,971.1 1304.3,963.5 1304.8,960.7C1305.4,957.9 1307.2,953.7 1308.1,953.1C1309.0,952.5 1310.7,954.8 1311.4,956.4C1312.1,957.9 1312.7,963.3 1313.5,965.0C1314.4,966.8 1316.7,967.4 1317.9,969.4C1319.1,971.4 1321.2,978.0 1322.2,980.3C1323.3,982.6 1324.2,985.3 1325.5,986.8C1326.8,988.2 1330.4,989.4 1332.0,991.1C1333.6,992.9 1336.0,998.1 1337.5,999.9C1338.9,1001.6 1341.3,1002.2 1342.9,1004.2C1344.5,1006.2 1348.2,1012.2 1349.4,1015.1C1350.7,1018.0 1352.1,1022.8 1352.3,1026.0C1352.4,1029.1 1351.2,1035.8 1350.5,1039.0C1349.9,1042.2 1348.3,1047.3 1347.3,1049.9C1346.2,1052.5 1343.9,1056.3 1342.9,1058.6C1341.9,1060.9 1340.4,1065.4 1339.7,1067.3C1338.9,1069.2 1338.6,1071.4 1337.5,1072.7C1336.3,1074.0 1332.7,1076.0 1331.0,1077.1C1329.2,1078.1 1326.0,1080.2 1324.4,1080.3C1322.8,1080.5 1320.4,1078.3 1319.0,1078.2C1317.5,1078.0 1315.3,1079.4 1313.5,1079.2C1311.8,1079.1 1307.8,1077.9 1305.9,1077.1C1304.1,1076.2 1300.6,1074.3 1299.4,1072.7C1298.3,1071.1 1298.3,1066.8 1297.2,1065.1C1296.2,1063.4 1293.0,1060.2 1291.8,1059.7C1290.6,1059.1 1288.7,1061.9 1288.5,1060.8C1288.4,1059.6 1291.1,1051.5 1290.7,1051.0C1290.3,1050.4 1286.7,1055.4 1285.3,1056.4C1283.8,1057.4 1281.0,1059.3 1279.8,1058.6C1278.7,1057.9 1277.7,1052.6 1276.6,1051.0C1275.4,1049.4 1273.2,1047.5 1271.1,1046.6C1269.1,1045.7 1264.1,1044.6 1261.3,1044.4C1258.6,1044.3 1253.4,1044.8 1250.5,1045.5C1247.6,1046.2 1242.2,1048.7 1239.6,1049.9C1237.0,1051.0 1233.2,1053.5 1230.9,1054.2C1228.6,1054.9 1224.5,1054.6 1222.2,1055.3C1219.9,1056.0 1215.5,1058.9 1213.5,1059.7C1211.5,1060.4 1208.9,1061.2 1207.0,1060.8C1205.1,1060.3 1200.2,1058.4 1199.4,1056.4C1198.5,1054.4 1200.7,1048.7 1200.5,1045.5C1200.2,1042.3 1198.2,1036.0 1197.2,1032.5C1196.2,1029.0 1193.6,1022.9 1192.8,1019.4C1192.1,1015.9 1191.6,1008.8 1191.8,1006.4Z"/>
<path d="M1317.9,1091.2C1318.3,1090.2 1321.6,1092.4 1323.3,1092.3C1325.1,1092.1 1329.8,1089.5 1331.0,1090.1C1332.1,1090.7 1332.5,1094.8 1332.0,1096.6C1331.6,1098.5 1328.7,1103.0 1327.7,1104.2C1326.7,1105.5 1325.4,1106.6 1324.4,1106.0C1323.4,1105.4 1320.9,1101.9 1320.1,1099.9C1319.2,1097.9 1317.5,1092.2 1317.9,1091.2Z"/>
<path d="M1428.8,1058.6C1429.0,1058.0 1431.1,1058.6 1432.1,1059.7C1433.1,1060.7 1435.3,1064.3 1436.4,1066.2C1437.6,1068.1 1439.3,1072.5 1440.8,1073.8C1442.2,1075.1 1445.9,1075.5 1447.3,1076.0C1448.7,1076.4 1450.7,1076.3 1451.0,1077.1C1451.3,1077.8 1450.3,1080.1 1449.5,1081.4C1448.7,1082.7 1446.3,1085.3 1445.1,1086.8C1444.0,1088.4 1441.8,1092.8 1440.8,1093.4C1439.8,1094.0 1438.4,1092.5 1437.5,1091.2C1436.7,1089.9 1434.4,1085.3 1434.3,1083.6C1434.1,1081.8 1436.4,1079.9 1436.4,1078.2C1436.4,1076.4 1435.0,1072.4 1434.3,1070.5C1433.5,1068.7 1431.7,1065.6 1431.0,1064.0C1430.3,1062.4 1428.7,1059.2 1428.8,1058.6Z"/>
<path d="M1427.7,1090.1C1429.0,1089.8 1433.7,1091.8 1434.3,1093.4C1434.8,1095.0 1433.1,1100.0 1432.1,1102.1C1431.1,1104.1 1428.0,1106.9 1426.7,1108.6C1425.3,1110.3 1423.5,1113.4 1422.3,1115.1C1421.1,1116.9 1419.5,1120.2 1418.0,1121.7C1416.4,1123.1 1411.6,1125.7 1410.3,1126.0C1409.0,1126.3 1408.9,1125.0 1408.2,1123.8C1407.4,1122.7 1404.9,1118.9 1404.9,1117.3C1404.9,1115.7 1406.9,1113.2 1408.2,1111.9C1409.5,1110.6 1413.1,1108.8 1414.7,1107.5C1416.3,1106.2 1418.8,1103.7 1420.1,1102.1C1421.4,1100.5 1423.5,1097.1 1424.5,1095.5C1425.5,1094.0 1426.4,1090.4 1427.7,1090.1Z"/>
<ellipse cx="1098.8" cy="308.0" rx="5.5" ry="4.2" transform="rotate(20 1098.8 308.0)"/>
<ellipse cx="1052.5" cy="318.5" rx="4.2" ry="3.2" transform="rotate(10 1052.5 318.5)"/>
<ellipse cx="1186.2" cy="444.2" rx="3.0" ry="3.0"/>
<ellipse cx="1198.8" cy="443.0" rx="3.0" ry="3.0"/>
<ellipse cx="958.0" cy="924.8" rx="3.0" ry="2.8"/>
<ellipse cx="923.8" cy="945.5" rx="2.5" ry="1.8"/>
<ellipse cx="942.5" cy="942.0" rx="2.5" ry="1.5"/>
<ellipse cx="943.8" cy="951.5" rx="3.8" ry="1.5"/>
<ellipse cx="965.8" cy="952.2" rx="2.0" ry="2.2"/>
<ellipse cx="959.2" cy="997.2" rx="1.8" ry="2.2" transform="rotate(-30 959.2 997.2)"/>
<ellipse cx="965.8" cy="993.5" rx="2.0" ry="1.5" transform="rotate(-30 965.8 993.5)"/>
<ellipse cx="990.2" cy="989.2" rx="2.8" ry="1.8" transform="rotate(25 990.2 989.2)"/>
<ellipse cx="1023.8" cy="933.5" rx="2.5" ry="3.5"/>
<ellipse cx="1325.6" cy="916.8" rx="1.6" ry="0.8"/>
<ellipse cx="1340.0" cy="919.0" rx="1.0" ry="1.0"/>
<ellipse cx="671.0" cy="787.4" rx="5.0" ry="1.4"/>
<ellipse cx="1170.0" cy="919.6" rx="1.0" ry="1.6"/>
</g>
<g fill="#5274a3">
<path d="M358.8,601.2C359.1,599.4 359.9,591.6 361.2,588.8C362.6,585.9 367.1,582.3 368.8,580.0C370.4,577.7 372.6,573.1 373.8,571.2C374.9,569.4 376.0,567.4 377.5,566.2C379.0,565.1 383.7,564.0 385.0,562.5C386.3,561.0 386.8,555.7 387.5,555.0C388.2,554.3 390.0,556.0 390.0,557.5C390.0,559.0 387.2,564.6 387.5,566.2C387.8,567.9 391.2,569.2 392.5,570.0C393.8,570.8 396.0,572.5 397.5,571.9C399.0,571.3 402.1,565.9 403.8,565.6C405.4,565.4 408.7,569.6 410.0,570.0C411.3,570.4 413.1,569.7 413.8,568.8C414.4,567.8 415.8,564.8 415.0,563.1C414.2,561.5 409.5,558.1 407.5,556.2C405.5,554.4 400.3,550.5 400.0,549.4C399.7,548.2 404.3,548.8 405.0,547.5C405.7,546.2 404.2,542.0 405.0,540.0C405.8,538.0 410.0,534.5 410.6,532.5C411.3,530.5 410.2,527.0 410.0,525.0C409.8,523.0 408.6,519.3 408.8,517.5C408.9,515.7 411.3,513.1 411.2,511.2C411.2,509.4 407.6,504.3 408.1,503.8C408.6,503.2 413.5,507.1 415.0,506.9C416.5,506.6 418.4,502.5 419.4,501.9C420.4,501.2 422.2,501.5 422.5,501.9C422.8,502.3 421.8,503.4 421.2,505.0C420.8,506.6 419.0,511.8 418.8,513.8C418.5,515.8 419.0,519.5 419.4,520.0C419.8,520.5 421.2,519.2 421.9,517.5C422.5,515.8 423.8,509.0 424.4,507.5C425.0,506.0 425.8,505.6 426.2,506.2C426.8,506.9 427.6,511.1 428.1,512.5C428.6,513.9 429.1,516.5 430.0,516.9C430.9,517.3 433.7,515.4 435.0,515.6C436.3,515.9 439.0,517.5 440.0,518.8C441.0,520.0 441.9,523.5 442.5,525.0C443.1,526.5 444.4,528.3 444.4,530.0C444.4,531.7 443.2,536.0 442.5,537.5C441.8,539.0 439.1,540.4 438.8,541.2C438.4,542.1 440.2,542.8 440.0,543.8C439.8,544.8 439.2,547.9 437.5,548.8C435.8,549.6 429.2,549.3 427.5,550.0C425.8,550.7 424.7,552.4 424.4,553.8C424.0,555.1 424.2,558.8 425.0,560.0C425.8,561.2 428.5,562.4 430.0,562.5C431.5,562.6 434.8,560.8 436.2,560.6C437.8,560.5 440.1,560.7 441.2,561.2C442.4,561.8 443.8,563.7 445.0,565.0C446.2,566.3 448.5,569.8 450.0,571.2C451.5,572.8 454.6,575.2 456.2,576.2C457.9,577.2 460.7,577.9 462.5,578.8C464.3,579.6 468.8,582.2 470.0,582.5C471.2,582.8 472.2,582.1 471.9,581.2C471.5,580.4 468.4,577.5 467.5,576.2C466.6,575.0 464.7,572.2 465.0,571.9C465.3,571.5 468.5,573.3 470.0,573.8C471.5,574.2 474.9,575.0 476.2,575.0C477.6,575.0 479.0,573.2 480.0,573.8C481.0,574.2 483.1,576.9 483.8,578.8C484.4,580.6 485.2,585.5 485.0,587.5C484.8,589.5 483.7,592.9 482.5,593.8C481.3,594.6 477.2,592.9 476.2,593.8C475.2,594.6 475.3,598.3 475.0,600.0C474.7,601.7 474.4,604.9 473.8,606.2C473.1,607.6 471.2,609.7 470.0,610.0C468.8,610.3 466.2,609.8 465.0,608.8C463.8,607.8 461.9,604.3 461.2,602.5C460.6,600.7 460.0,596.5 460.0,595.0C460.0,593.5 461.8,592.1 461.2,591.2C460.8,590.4 457.6,589.4 456.2,588.8C454.9,588.1 452.4,587.4 451.2,586.2C450.1,585.1 448.7,581.3 447.5,580.0C446.3,578.7 443.8,576.9 442.5,576.2C441.2,575.6 438.5,574.7 437.5,575.0C436.5,575.3 436.0,578.4 435.0,578.8C434.0,579.1 431.3,577.8 430.0,577.5C428.7,577.2 425.8,575.9 425.0,576.2C424.2,576.6 423.8,578.3 423.8,580.0C423.8,581.7 424.9,586.8 425.0,588.8C425.1,590.8 424.4,593.3 424.4,595.0C424.4,596.7 425.2,599.6 425.0,601.2C424.8,602.9 422.8,605.8 422.5,607.5C422.2,609.2 422.0,612.4 422.5,613.8C423.0,615.1 425.4,616.3 426.2,617.5C427.1,618.7 428.3,622.2 428.8,622.5C429.2,622.8 429.7,619.0 429.5,620.0C429.3,621.0 428.0,627.3 427.0,630.0C426.0,632.7 423.8,637.8 422.0,640.0C420.2,642.2 414.8,646.2 413.2,646.2C411.8,646.2 411.6,641.8 410.8,640.0C409.9,638.2 408.8,633.8 407.0,632.5C405.2,631.2 399.7,631.3 397.0,630.0C394.3,628.7 389.7,624.2 387.0,622.5C384.3,620.8 379.7,617.8 377.0,617.5C374.3,617.2 368.7,621.0 367.0,620.0C365.3,619.0 365.6,612.3 364.5,610.0C363.4,607.7 359.8,603.7 359.0,602.5C358.2,601.3 358.4,603.1 358.8,601.2Z"/>
<path d="M372.0,689.2C372.2,688.1 376.6,685.0 378.2,683.8C379.9,682.5 382.8,680.0 384.5,680.0C386.2,680.0 389.2,682.4 390.8,683.8C392.2,685.1 394.8,688.8 395.8,690.0C396.8,691.2 398.9,692.1 398.2,692.5C397.6,692.9 392.8,693.4 390.8,693.0C388.8,692.6 385.1,689.6 383.2,689.5C381.4,689.4 378.5,692.0 377.0,692.0C375.5,692.0 371.8,690.4 372.0,689.2Z"/>
<path d="M387.0,698.0C387.6,696.6 390.0,696.1 390.8,697.0C391.5,697.9 392.4,702.4 392.5,705.0C392.6,707.6 392.2,714.6 391.5,716.2C390.8,717.9 388.2,718.2 387.5,717.0C386.8,715.8 386.1,710.0 386.0,707.5C385.9,705.0 386.4,699.4 387.0,698.0Z"/>
<path d="M393.2,696.2C394.2,695.4 399.8,694.7 402.0,695.0C404.2,695.3 408.2,697.4 409.5,698.8C410.8,700.1 411.4,703.4 411.5,705.0C411.6,706.6 410.8,710.5 410.0,710.5C409.2,710.5 407.0,706.1 405.8,705.0C404.5,703.9 402.2,703.0 400.8,702.5C399.2,702.0 395.5,702.1 394.5,701.2C393.5,700.4 392.2,697.1 393.2,696.2Z"/>
<path d="M404.5,715.5C404.7,714.8 408.8,712.3 410.0,712.0C411.2,711.7 413.5,712.3 413.2,713.0C413.0,713.7 409.4,716.7 408.2,717.0C407.1,717.3 404.3,716.2 404.5,715.5Z"/>
<path d="M419.5,706.2C420.4,706.0 426.0,706.2 427.0,706.5C428.0,706.8 427.9,708.3 427.0,708.5C426.1,708.7 421.0,708.5 420.0,708.2C419.0,708.0 418.6,706.5 419.5,706.2Z"/>
<path d="M594.5,253.5C594.2,253.0 601.9,249.3 605.0,248.2C608.1,247.2 614.4,246.2 617.5,245.8C620.6,245.3 627.7,244.5 628.0,245.0C628.3,245.5 622.7,248.6 620.0,249.5C617.3,250.4 610.9,251.5 607.5,252.0C604.1,252.5 594.8,254.0 594.5,253.5Z"/>
<path d="M599.5,292.5C599.3,292.0 604.8,285.9 607.5,284.5C610.2,283.1 616.3,282.4 620.0,281.8C623.7,281.1 631.9,279.1 635.0,279.2C638.1,279.4 643.7,281.8 643.0,282.5C642.3,283.2 633.4,283.8 630.0,284.2C626.6,284.7 620.3,285.4 617.5,286.0C614.7,286.6 611.1,287.6 608.8,288.5C606.4,289.4 599.7,293.0 599.5,292.5Z"/>
<path d="M625.8,298.0C625.2,297.5 630.2,291.3 632.0,289.5C633.8,287.7 638.7,283.8 639.2,284.2C639.8,284.7 637.8,291.2 636.0,293.0C634.2,294.8 626.3,298.5 625.8,298.0Z"/>
<path d="M538.0,259.5C538.8,258.6 544.2,259.5 546.2,261.2C548.2,263.0 551.9,268.6 553.0,272.5C554.1,276.4 555.3,289.8 554.2,290.5C553.2,291.2 546.9,280.5 545.0,277.5C543.1,274.5 540.9,270.4 540.0,268.0C539.1,265.6 537.2,260.4 538.0,259.5Z"/>
<path d="M358.2,302.0C358.6,302.7 365.8,302.9 368.2,305.0C370.8,307.1 374.2,314.7 377.0,317.5C379.8,320.3 386.2,324.6 389.5,326.2C392.8,327.9 398.3,331.2 402.0,330.0C405.7,328.8 417.0,318.2 417.0,317.5C417.0,316.8 405.7,324.2 402.0,324.5C398.3,324.8 392.5,321.8 389.5,320.0C386.5,318.2 381.7,313.6 379.5,311.2C377.3,308.9 375.1,303.6 373.2,302.0C371.4,300.4 367.8,299.5 365.8,299.5C363.8,299.5 357.9,301.3 358.2,302.0Z"/>
<path d="M390.0,462.7C389.8,464.2 390.5,472.9 391.2,475.9C392.0,479.0 395.4,485.3 395.8,485.3C396.2,485.3 394.8,478.8 394.4,475.9C394.0,473.1 393.4,466.0 392.8,464.2C392.2,462.4 390.2,461.1 390.0,462.7Z"/>
<path d="M702.5,760.0C702.8,759.3 709.1,754.1 711.2,752.5C713.4,750.9 716.1,748.6 718.8,747.8C721.4,746.9 727.9,746.6 731.2,746.0C734.6,745.4 741.1,743.9 743.8,743.1C746.4,742.3 750.3,742.1 751.2,740.0C752.2,737.9 751.0,731.2 751.0,727.5C751.0,723.8 750.1,713.7 751.2,711.9C752.4,710.0 757.5,713.7 759.4,713.5C761.2,713.3 763.8,711.5 765.0,710.6C766.2,709.7 767.8,707.5 768.8,706.9C769.8,706.3 771.5,705.8 772.5,706.0C773.5,706.2 775.7,707.7 776.2,708.8C776.8,709.8 776.0,712.4 776.9,713.8C777.7,715.1 780.9,717.4 782.5,718.8C784.1,720.1 787.1,722.6 788.8,723.8C790.4,724.9 793.5,726.5 795.0,727.5C796.5,728.5 799.2,730.1 800.0,731.2C800.8,732.4 800.6,735.5 801.2,736.2C801.9,737.0 804.3,737.5 805.0,736.9C805.7,736.2 805.6,732.3 806.2,731.2C806.9,730.2 809.1,729.2 810.0,728.8C810.9,728.2 813.1,728.0 813.1,727.5C813.1,727.0 811.2,726.2 809.9,724.9C808.5,723.5 804.9,719.2 803.0,717.4C801.1,715.5 797.4,712.7 795.5,711.1C793.6,709.6 789.9,706.8 788.8,705.6C787.6,704.5 786.9,703.2 786.9,702.5C786.9,701.8 788.1,700.4 788.8,700.0C789.4,699.6 790.4,699.0 791.9,699.8C793.3,700.5 797.5,704.3 799.5,706.0C801.5,707.7 805.1,710.4 807.0,712.2C808.9,714.1 812.8,717.7 813.9,719.8C815.0,721.8 814.4,725.6 815.2,727.5C816.1,729.4 818.7,732.1 820.0,733.8C821.3,735.4 823.8,739.2 825.0,740.0C826.2,740.8 828.0,740.0 828.8,739.4C829.5,738.7 830.5,736.1 830.6,735.0C830.8,733.9 829.4,732.1 830.0,731.2C830.6,730.4 833.8,728.9 835.0,728.8C836.2,728.6 838.7,729.0 839.4,730.0C840.0,731.0 839.8,734.8 840.0,736.2C840.2,737.8 840.4,740.1 841.2,741.2C842.1,742.4 844.9,744.0 846.2,745.0C847.6,746.0 849.9,748.1 851.2,748.8C852.6,749.4 855.1,750.2 856.2,750.0C857.4,749.8 859.0,747.9 860.0,747.5C861.0,747.1 862.8,746.4 863.8,746.9C864.8,747.4 866.7,750.8 867.5,751.2C868.3,751.7 869.2,750.4 870.0,750.0C870.8,749.6 872.8,748.6 873.8,748.1C874.8,747.6 876.8,745.7 877.5,746.2C878.2,746.8 878.7,750.7 878.8,752.5C878.8,754.3 878.5,758.3 878.1,760.0C877.8,761.7 877.3,763.3 876.2,765.0C875.2,766.7 871.8,771.7 870.0,772.5C868.2,773.3 864.8,771.3 862.5,771.2C860.2,771.2 855.8,772.0 852.5,771.9C849.2,771.7 840.7,770.9 837.5,770.0C834.3,769.1 830.9,765.9 828.8,765.0C826.6,764.1 823.2,762.5 821.2,763.1C819.2,763.8 816.2,769.6 813.8,770.0C811.2,770.4 805.3,767.6 802.5,766.2C799.7,764.9 795.0,761.8 792.5,760.0C790.0,758.2 785.4,754.5 783.8,752.5C782.1,750.5 782.5,746.0 780.0,745.0C777.5,744.0 770.3,744.6 765.0,745.0C759.7,745.4 746.0,747.5 740.0,748.1C734.0,748.8 724.2,748.8 720.0,750.0C715.8,751.2 711.1,756.2 708.8,757.5C706.4,758.8 702.2,760.7 702.5,760.0Z"/>
<path d="M756.9,604.4C757.1,603.6 759.6,610.4 760.6,611.9C761.6,613.4 763.2,615.5 764.4,615.6C765.5,615.8 767.8,613.7 769.1,612.8C770.3,611.9 772.1,610.2 773.8,609.1C775.4,607.9 780.3,604.2 781.2,604.4C782.2,604.5 780.7,608.5 780.8,610.0C780.9,611.5 781.8,614.1 782.2,615.6C782.6,617.1 783.6,619.5 784.1,621.2C784.6,623.0 785.4,627.0 785.9,628.8C786.4,630.5 786.9,633.5 787.8,634.4C788.7,635.2 791.6,635.7 792.5,635.3C793.4,634.9 793.2,632.4 794.4,631.6C795.5,630.7 799.7,630.1 800.9,628.8C802.2,627.4 803.2,623.2 803.8,621.2C804.2,619.2 803.9,615.4 804.7,613.8C805.4,612.1 808.4,610.3 809.4,609.1C810.4,607.8 811.7,605.5 812.2,604.4C812.7,603.2 813.8,601.5 813.1,600.6C812.5,599.7 808.4,598.8 807.5,597.5C806.6,596.2 806.2,592.5 806.2,590.6C806.2,588.8 806.8,585.2 807.5,583.8C808.2,582.3 809.6,580.7 811.2,580.0C812.9,579.3 818.6,578.1 820.0,578.8C821.4,579.4 821.2,583.4 821.5,585.0C821.8,586.6 821.4,588.7 821.9,590.6C822.3,592.5 823.9,598.0 825.0,599.4C826.1,600.8 828.0,601.1 830.0,601.2C832.0,601.4 837.3,600.9 840.0,600.6C842.7,600.4 849.2,599.0 850.0,599.4C850.8,599.8 847.6,603.3 846.2,603.8C844.9,604.2 841.5,602.7 840.0,602.5C838.5,602.3 836.5,602.1 835.0,602.5C833.5,602.9 830.2,604.9 828.8,605.6C827.2,606.4 824.5,607.2 823.8,608.1C823.0,609.0 822.9,611.6 823.1,612.5C823.4,613.4 824.4,615.0 825.6,615.0C826.9,615.0 831.9,611.7 832.5,612.5C833.1,613.3 831.0,620.8 830.0,621.2C829.0,621.8 826.1,616.6 825.0,616.2C823.9,615.9 822.5,617.8 821.9,618.8C821.2,619.8 820.5,622.2 820.0,623.8C819.5,625.2 818.5,628.3 818.1,630.0C817.8,631.7 818.2,634.5 817.5,636.2C816.8,638.0 814.3,643.0 813.1,643.1C811.9,643.2 809.9,637.5 808.4,637.2C806.9,636.9 804.0,640.2 801.9,640.9C799.8,641.7 794.9,643.1 792.5,642.8C790.1,642.6 785.4,639.9 784.1,639.1C782.7,638.2 782.6,637.6 782.2,636.2C781.8,634.9 781.8,630.8 781.2,628.8C780.8,626.8 779.4,622.5 778.4,621.2C777.4,620.0 774.9,619.1 773.8,619.4C772.6,619.6 770.8,621.9 770.0,623.1C769.2,624.4 768.4,627.0 768.1,628.8C767.8,630.5 768.4,636.0 767.7,636.2C766.9,636.5 763.7,633.1 762.5,630.6C761.3,628.1 759.5,621.0 758.8,617.5C758.0,614.0 756.6,605.1 756.9,604.4Z"/>
<path d="M824.6,554.2C824.9,553.1 826.3,550.2 827.4,549.4C828.5,548.7 831.8,548.4 832.9,548.8C834.0,549.1 835.5,551.0 835.6,552.2C835.7,553.4 834.5,556.7 833.6,557.7C832.6,558.7 829.9,559.7 828.8,559.8C827.6,559.8 825.9,559.1 825.3,558.4C824.8,557.6 824.4,555.4 824.6,554.2Z"/>
<path d="M922.0,700.0C922.4,698.1 924.4,695.3 926.0,694.0C927.6,692.7 931.7,690.7 934.0,690.0C936.3,689.3 941.7,688.3 943.0,689.0C944.3,689.7 944.8,693.5 944.0,695.0C943.2,696.5 938.1,698.5 937.0,700.0C935.9,701.5 935.6,704.4 936.0,706.0C936.4,707.6 938.9,710.5 940.0,712.0C941.1,713.5 943.3,712.7 944.0,717.0C944.7,721.3 946.1,740.5 945.0,744.0C943.9,747.5 937.9,743.8 936.0,743.0C934.1,742.2 931.9,740.0 931.0,738.0C930.1,736.0 929.1,730.4 929.0,728.0C928.9,725.6 930.3,721.9 930.0,720.0C929.7,718.1 927.9,715.6 927.0,714.0C926.1,712.4 923.7,709.9 923.0,708.0C922.3,706.1 921.6,701.9 922.0,700.0Z"/>
<path d="M967.0,702.0C967.4,700.9 969.7,698.5 971.0,698.4C972.3,698.3 976.1,699.9 977.0,701.0C977.9,702.1 978.3,705.9 977.6,707.0C976.9,708.1 973.3,709.0 972.0,709.0C970.7,709.0 968.7,707.9 968.0,707.0C967.3,706.1 966.6,703.1 967.0,702.0Z"/>
<path d="M871.5,786.5C871.2,787.6 873.9,792.5 875.0,795.0C876.1,797.5 878.7,802.3 880.0,805.0C881.3,807.7 883.7,812.0 885.0,815.0C886.3,818.0 888.0,824.2 890.0,827.5C892.0,830.8 897.7,837.0 900.0,840.0C902.3,843.0 905.5,847.2 907.5,850.0C909.5,852.8 913.4,861.0 915.0,861.2C916.6,861.5 920.3,855.2 919.5,852.0C918.7,848.8 911.9,841.8 908.8,837.5C905.6,833.2 899.1,824.7 896.2,820.0C893.4,815.3 889.5,806.2 887.5,802.5C885.5,798.8 882.6,794.6 881.2,792.5C879.9,790.4 878.8,787.3 877.5,786.5C876.2,785.7 871.8,785.4 871.5,786.5Z"/>
</g>
<g fill="none" stroke="#5274a3" stroke-linecap="round">
<path d="M1027.5,472.5C1027.4,474.8 1026.4,485.0 1026.5,490.0C1026.6,495.0 1027.7,504.7 1028.2,510.0C1028.8,515.3 1030.4,527.3 1030.8,530.0" stroke-width="2.2"/>
<path d="M1057.0,470.0C1058.0,471.3 1063.0,477.7 1064.5,480.0C1066.0,482.3 1067.6,485.3 1068.2,487.5C1068.9,489.7 1069.3,495.1 1069.5,496.2" stroke-width="2.2"/>
<path d="M1013.2,540.5C1014.4,539.9 1019.8,537.6 1022.0,536.2C1024.2,534.9 1028.9,530.8 1030.0,530.0" stroke-width="3"/>
</g>
<g fill="#6bb2c9">
<path d="M771.5,716.9C771.6,716.2 772.9,714.5 773.5,714.4C774.1,714.3 776.0,715.6 776.2,716.2C776.5,716.9 776.1,718.9 775.6,719.4C775.2,719.8 773.3,720.1 772.8,719.8C772.2,719.4 771.4,717.6 771.5,716.9Z"/>
<path d="M770.0,722.5C770.7,721.8 772.8,720.8 773.8,721.2C774.7,721.8 776.5,724.8 776.9,726.2C777.2,727.8 776.8,731.3 776.2,732.5C775.7,733.7 773.4,735.2 772.5,735.0C771.6,734.8 769.9,732.4 769.4,731.2C768.8,730.1 768.4,727.4 768.5,726.2C768.6,725.1 769.3,723.2 770.0,722.5Z"/>
<path d="M831.9,754.4C832.2,753.9 836.0,752.7 837.5,752.5C839.0,752.3 842.5,752.8 843.1,753.1C843.7,753.5 843.0,754.6 841.9,755.0C840.8,755.4 836.3,756.1 835.0,756.0C833.7,755.9 831.5,754.8 831.9,754.4Z"/>
<path d="M867.2,755.0C867.5,754.2 869.1,752.2 870.0,751.9C870.9,751.5 873.1,751.8 873.8,752.2C874.4,752.7 875.1,754.2 874.8,755.0C874.4,755.8 872.1,757.8 871.2,758.1C870.4,758.5 868.7,757.9 868.1,757.5C867.6,757.1 867.0,755.8 867.2,755.0Z"/>
<path d="M845.6,750.0C845.8,749.6 847.3,749.2 847.8,749.4C848.2,749.5 848.9,750.9 848.8,751.2C848.6,751.6 846.9,752.2 846.5,752.0C846.1,751.8 845.5,750.4 845.6,750.0Z"/>
<ellipse cx="403.8" cy="578.8" rx="4.5" ry="3.2" transform="rotate(-20 403.8 578.8)"/>
<ellipse cx="417.5" cy="583.0" rx="3.0" ry="4.2"/>
<ellipse cx="417.2" cy="620.0" rx="2.2" ry="2.2"/>
<ellipse cx="424.5" cy="620.5" rx="2.5" ry="2.5"/>
<ellipse cx="419.5" cy="628.0" rx="3.5" ry="3.5"/>
<ellipse cx="414.5" cy="642.5" rx="2.2" ry="2.2"/>
<ellipse cx="431.2" cy="525.6" rx="5.6" ry="6.9"/>
<ellipse cx="463.8" cy="595.2" rx="2.5" ry="3.5"/>
<ellipse cx="931.9" cy="509.6" rx="3.0" ry="4.8" transform="rotate(10 931.9 509.6)"/>
<ellipse cx="826.9" cy="741.2" rx="0.9" ry="0.8"/>
<ellipse cx="831.2" cy="743.1" rx="0.9" ry="0.8"/>
<ellipse cx="835.0" cy="740.6" rx="0.8" ry="0.6"/>
<ellipse cx="832.5" cy="746.2" rx="0.8" ry="0.6"/>
<ellipse cx="836.9" cy="744.4" rx="0.8" ry="0.6"/>
</g>
</g>
<rect x="517" y="428" width="233" height="146" fill="none" stroke="#fff" stroke-width="8"/>
<rect x="770" y="447.5" width="201.5" height="146.5" fill="none" stroke="#fff" stroke-width="8"/>
<rect x="415.5" y="651" width="223.5" height="146" fill="none" stroke="#fff" stroke-width="8"/>
<rect x="660" y="651.5" width="223.5" height="146.5" fill="none" stroke="#fff" stroke-width="8"/>
<rect x="947" y="615" width="266" height="194.5" fill="none" stroke="#fff" stroke-width="8"/>
<rect x="1236" y="662" width="267" height="233" fill="none" stroke="#fff" stroke-width="8"/>
</svg>
<span class="t" id="t0" style="left:69.2px;top:25.45px;font-size:74.13px;font-weight:700;color:#000;letter-spacing:7px;text-shadow:1px 0 0 #000,-1px 0 0 #000,2px 0 0 #000,-2px 0 0 #000,3px 0 0 #000,-3px 0 0 #000,3.8px 0 0 #000,-3.8px 0 0 #000;transform:scaleX(0.5254)">SAFETY ABROAD</span>
<span class="t" id="s1" style="left:61.5px;top:104.32px;font-size:38.37px;font-weight:400;color:#000;transform:scaleX(0.8824)">Many of the most popular destinations to study abroad have also seen unexpected emergencies</span>
<span class="t" id="s2" style="left:61.5px;top:148.92px;font-size:38.37px;font-weight:400;color:#000;transform:scaleX(0.9085)">occur, such as terrorist attacks or civil unrest. Here are some from recent years.</span>
<span class="t" id="m1" style="left:534px;top:437.35px;font-size:40.70px;font-weight:700;color:#fff;letter-spacing:1.3px;text-shadow:0.6px 0 0 #fff,-0.6px 0 0 #fff,1.1px 0 0 #fff,-1.1px 0 0 #fff;transform:scaleX(0.6493)">Manchester,</span>
<span class="t" id="m2" style="left:534px;top:482.35px;font-size:40.70px;font-weight:700;color:#fff;letter-spacing:1.3px;text-shadow:0.6px 0 0 #fff,-0.6px 0 0 #fff,1.1px 0 0 #fff,-1.1px 0 0 #fff;transform:scaleX(0.6138)">United Kingdom</span>
<span class="t" id="m3" style="left:534px;top:527.74px;font-size:36.34px;font-weight:400;color:#fff;transform:scaleX(0.7631)">May 22, 2017</span>
<span class="t" id="b1" style="left:788px;top:461.35px;font-size:40.70px;font-weight:700;color:#fff;letter-spacing:1.3px;text-shadow:0.6px 0 0 #fff,-0.6px 0 0 #fff,1.1px 0 0 #fff,-1.1px 0 0 #fff;transform:scaleX(0.6054)">Brussels,</span>
<span class="t" id="b2" style="left:788px;top:506.35px;font-size:40.70px;font-weight:700;color:#fff;letter-spacing:1.3px;text-shadow:0.6px 0 0 #fff,-0.6px 0 0 #fff,1.1px 0 0 #fff,-1.1px 0 0 #fff;transform:scaleX(0.5955)">Belgium</span>
<span class="t" id="b3" style="left:788px;top:551.74px;font-size:36.34px;font-weight:400;color:#fff;transform:scaleX(0.7801)">Mar 22, 2016</span>
<span class="t" id="p1" style="left:429.5px;top:661.35px;font-size:40.70px;font-weight:700;color:#fff;letter-spacing:1.3px;text-shadow:0.6px 0 0 #fff,-0.6px 0 0 #fff,1.1px 0 0 #fff,-1.1px 0 0 #fff;transform:scaleX(0.6322)">Paris,</span>
<span class="t" id="p2" style="left:429.5px;top:706.35px;font-size:40.70px;font-weight:700;color:#fff;letter-spacing:1.3px;text-shadow:0.6px 0 0 #fff,-0.6px 0 0 #fff,1.1px 0 0 #fff,-1.1px 0 0 #fff;transform:scaleX(0.6284)">France</span>
<span class="t" id="p3" style="left:429.5px;top:750.74px;font-size:36.34px;font-weight:400;color:#fff;transform:scaleX(0.7296)">Nov 13-14, 2015</span>
<span class="t" id="n1" style="left:675px;top:663.35px;font-size:40.70px;font-weight:700;color:#fff;letter-spacing:1.3px;text-shadow:0.6px 0 0 #fff,-0.6px 0 0 #fff,1.1px 0 0 #fff,-1.1px 0 0 #fff;transform:scaleX(0.6072)">Nice,</span>
<span class="t" id="n2" style="left:675px;top:707.95px;font-size:40.70px;font-weight:700;color:#fff;letter-spacing:1.3px;text-shadow:0.6px 0 0 #fff,-0.6px 0 0 #fff,1.1px 0 0 #fff,-1.1px 0 0 #fff;transform:scaleX(0.6160)">France</span>
<span class="t" id="n3" style="left:675px;top:752.34px;font-size:36.34px;font-weight:400;color:#fff;transform:scaleX(0.7274)">Jul 14, 2016</span>
<span class="t" id="a1" style="left:961.5px;top:627.60px;font-size:40.70px;font-weight:700;color:#fff;letter-spacing:1.3px;text-shadow:0.6px 0 0 #fff,-0.6px 0 0 #fff,1.1px 0 0 #fff,-1.1px 0 0 #fff;transform:scaleX(0.6355)">Ankara, Instanbul,</span>
<span class="t" id="a2" style="left:961.5px;top:672.60px;font-size:40.70px;font-weight:700;color:#fff;letter-spacing:1.3px;text-shadow:0.6px 0 0 #fff,-0.6px 0 0 #fff,1.1px 0 0 #fff,-1.1px 0 0 #fff;transform:scaleX(0.6442)">other cities,</span>
<span class="t" id="a3" style="left:961.5px;top:717.60px;font-size:40.70px;font-weight:700;color:#fff;letter-spacing:1.3px;text-shadow:0.6px 0 0 #fff,-0.6px 0 0 #fff,1.1px 0 0 #fff,-1.1px 0 0 #fff;transform:scaleX(0.6439)">Turkey</span>
<span class="t" id="a4" style="left:961.5px;top:761.99px;font-size:36.34px;font-weight:400;color:#fff;transform:scaleX(0.7274)">Jul 15, 2016</span>
<span class="t" id="w1" style="left:1248px;top:674.35px;font-size:40.70px;font-weight:700;color:#fff;letter-spacing:1.3px;text-shadow:0.6px 0 0 #fff,-0.6px 0 0 #fff,1.1px 0 0 #fff,-1.1px 0 0 #fff;transform:scaleX(0.6631)">Marawi,</span>
<span class="t" id="w2" style="left:1248px;top:718.85px;font-size:40.70px;font-weight:700;color:#fff;letter-spacing:1.3px;text-shadow:0.6px 0 0 #fff,-0.6px 0 0 #fff,1.1px 0 0 #fff,-1.1px 0 0 #fff;transform:scaleX(0.6293)">surrounding cities,</span>
<span class="t" id="w3" style="left:1248px;top:763.85px;font-size:40.70px;font-weight:700;color:#fff;letter-spacing:1.3px;text-shadow:0.6px 0 0 #fff,-0.6px 0 0 #fff,1.1px 0 0 #fff,-1.1px 0 0 #fff;transform:scaleX(0.6052)">Philippines</span>
<span class="t" id="w4" style="left:1248px;top:809.49px;font-size:36.34px;font-weight:400;color:#fff;transform:scaleX(0.7655)">May 24, 2017 -</span>
<span class="t" id="w5" style="left:1248px;top:848.24px;font-size:36.34px;font-weight:400;color:#fff;transform:scaleX(0.8459)">present</span>
<span class="t" id="f1" style="left:125.4px;top:1221.11px;font-size:26.74px;font-weight:700;color:#000;transform:scaleX(0.6867)">SOURCE: New York Times. Graphic reporting by Ryan Leou, national and higher education editor. Graphic by Pauline Ordonez, Daily Bruin contributor.</span>
</body></html>
